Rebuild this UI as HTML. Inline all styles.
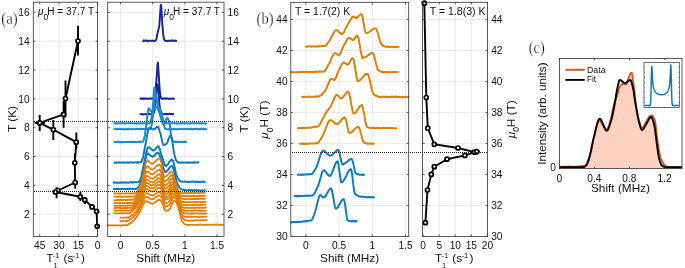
<!DOCTYPE html>
<html><head><meta charset="utf-8"><title>figure</title>
<style>html,body{margin:0;padding:0;background:#fff;}svg{display:block;will-change:transform;}</style></head>
<body><svg width="685" height="268" viewBox="0 0 685 268">
<rect x="0" y="0" width="685" height="268" fill="#fff"/>
<line x1="39.73" y1="2.2" x2="39.73" y2="236.4" stroke="#e3e3e3" stroke-width="0.8" />
<line x1="59.02" y1="2.2" x2="59.02" y2="236.4" stroke="#e3e3e3" stroke-width="0.8" />
<line x1="78.31" y1="2.2" x2="78.31" y2="236.4" stroke="#e3e3e3" stroke-width="0.8" />
<line x1="33.3" y1="12.4" x2="97.6" y2="12.4" stroke="#e3e3e3" stroke-width="0.8" />
<line x1="33.3" y1="41.23" x2="97.6" y2="41.23" stroke="#e3e3e3" stroke-width="0.8" />
<line x1="33.3" y1="70.06" x2="97.6" y2="70.06" stroke="#e3e3e3" stroke-width="0.8" />
<line x1="33.3" y1="98.88" x2="97.6" y2="98.88" stroke="#e3e3e3" stroke-width="0.8" />
<line x1="33.3" y1="127.71" x2="97.6" y2="127.71" stroke="#e3e3e3" stroke-width="0.8" />
<line x1="33.3" y1="156.54" x2="97.6" y2="156.54" stroke="#e3e3e3" stroke-width="0.8" />
<line x1="33.3" y1="185.37" x2="97.6" y2="185.37" stroke="#e3e3e3" stroke-width="0.8" />
<line x1="33.3" y1="214.2" x2="97.6" y2="214.2" stroke="#e3e3e3" stroke-width="0.8" />
<line x1="120.5" y1="2.2" x2="120.5" y2="236.4" stroke="#e3e3e3" stroke-width="0.8" />
<line x1="152.66" y1="2.2" x2="152.66" y2="236.4" stroke="#e3e3e3" stroke-width="0.8" />
<line x1="184.83" y1="2.2" x2="184.83" y2="236.4" stroke="#e3e3e3" stroke-width="0.8" />
<line x1="217" y1="2.2" x2="217" y2="236.4" stroke="#e3e3e3" stroke-width="0.8" />
<line x1="107.7" y1="12.4" x2="224" y2="12.4" stroke="#e3e3e3" stroke-width="0.8" />
<line x1="107.7" y1="41.23" x2="224" y2="41.23" stroke="#e3e3e3" stroke-width="0.8" />
<line x1="107.7" y1="70.06" x2="224" y2="70.06" stroke="#e3e3e3" stroke-width="0.8" />
<line x1="107.7" y1="98.88" x2="224" y2="98.88" stroke="#e3e3e3" stroke-width="0.8" />
<line x1="107.7" y1="127.71" x2="224" y2="127.71" stroke="#e3e3e3" stroke-width="0.8" />
<line x1="107.7" y1="156.54" x2="224" y2="156.54" stroke="#e3e3e3" stroke-width="0.8" />
<line x1="107.7" y1="185.37" x2="224" y2="185.37" stroke="#e3e3e3" stroke-width="0.8" />
<line x1="107.7" y1="214.2" x2="224" y2="214.2" stroke="#e3e3e3" stroke-width="0.8" />
<path d="M143.3,41.15 L143.8,40.37 L144.3,40.87 L144.8,40.7 L145.3,40.72 L145.8,40.76 L146.3,40.46 L146.8,40.76 L147.3,40.65 L147.8,41.36 L148.3,40.84 L148.8,40.74 L149.3,40.75 L149.8,40.69 L150.3,40.62 L150.8,40.73 L151.3,40.88 L151.8,40.76 L152.3,40.96 L152.8,40.77 L153.3,40.8 L153.8,41.06 L154.3,40.89 L154.8,40.71 L155.3,40.68 L155.8,40.31 L156.3,39.69 L156.8,36.73 L157.3,34.03 L157.8,32.3 L158.3,30.07 L158.8,28.13 L159.3,25.65 L159.8,18.89 L160.3,11.13 L160.8,4.81 L161.3,7.26 L161.8,15.17 L162.3,23.41 L162.8,29.86 L163.3,35.05 L163.8,38.18 L164.3,39.72 L164.8,40.24 L165.3,40.77 L165.8,40.79 L166.3,41.04 L166.8,40.93 L167.3,40.83 L167.8,40.99 L168.3,40.77 L168.8,40.64 L169.3,40.9 L169.8,40.9 L170.3,40.76 L170.8,40.67 L171.3,40.84 L171.8,40.38 L172.3,40.92 L172.8,40.88 L173.3,40.52 L173.8,40.81 L174.3,40.64 L174.8,40.93 L175.3,40.45 L175.8,40.64 L176.2,40.92" fill="none" stroke="#16259a" stroke-width="1.95" stroke-linejoin="round" stroke-linecap="round"/>
<path d="M140.4,98.8 L140.9,98.23 L141.4,98.52 L141.9,98.66 L142.4,98.5 L142.9,98.87 L143.4,98.4 L143.9,98.66 L144.4,98.42 L144.9,98.84 L145.4,98.6 L145.9,98.54 L146.4,98.31 L146.9,98.89 L147.4,98.73 L147.9,98.73 L148.4,98.79 L148.9,98.66 L149.4,98.49 L149.9,98.46 L150.4,98.46 L150.9,98.83 L151.4,98.35 L151.9,98.5 L152.4,98.55 L152.9,98.64 L153.4,98.57 L153.9,97.76 L154.4,96.89 L154.9,95.36 L155.4,91.88 L155.9,87.1 L156.4,80.62 L156.9,73.38 L157.4,65.31 L157.9,62.51 L158.4,69.25 L158.9,77.36 L159.4,85.81 L159.9,91.89 L160.4,95.99 L160.9,97.66 L161.4,98.57 L161.9,98.71 L162.4,98.85 L162.9,98.25 L163.4,98.54 L163.9,98.5 L164.4,98.69 L164.9,98.21 L165.4,98.8 L165.9,98.78 L166.4,98.38 L166.9,98.43 L167.4,98.46 L167.9,98.61 L168.4,98.71 L168.9,98.95 L169.4,98.57 L169.9,98.73 L170.4,98.63 L170.9,98.9 L171.4,98.73 L171.9,98.83 L172.4,98.42 L172.9,98.57 L173.4,98.46 L173.9,98.86 L174,98.71" fill="none" stroke="#16259a" stroke-width="1.95" stroke-linejoin="round" stroke-linecap="round"/>
<path d="M140.4,114.15 L140.9,114.12 L141.4,114.28 L141.9,114.08 L142.4,114.04 L142.9,114.28 L143.4,114.62 L143.9,114.16 L144.4,114.11 L144.9,114 L145.4,113.97 L145.9,114.29 L146.4,114.34 L146.9,114.2 L147.4,114.26 L147.9,114.22 L148.4,114.22 L148.9,113.94 L149.4,114.12 L149.9,114.22 L150.4,114.07 L150.9,114.12 L151.4,114.06 L151.9,114.14 L152.4,114.35 L152.9,113.99 L153.4,113.5 L153.9,112.83 L154.4,111.02 L154.9,107.62 L155.4,102.76 L155.9,97.61 L156.4,91.92 L156.9,87.27 L157.4,84.26 L157.9,85.96 L158.4,91.04 L158.9,96.75 L159.4,104.1 L159.9,108.64 L160.4,112.17 L160.9,113.33 L161.4,113.59 L161.9,114.32 L162.4,114.17 L162.9,114.37 L163.4,114 L163.9,113.93 L164.4,114.03 L164.9,114.12 L165.4,113.9 L165.9,114.06 L166.4,114 L166.9,114.27 L167.4,113.89 L167.9,114.18 L168.4,113.89 L168.9,113.84 L169.4,113.88 L169.9,113.8 L170.4,114.02 L170.9,114.18 L171.4,114.03 L171.9,114.11 L172.4,114.28 L172.9,114.05 L173.3,114.03" fill="none" stroke="#16259a" stroke-width="1.95" stroke-linejoin="round" stroke-linecap="round"/>
<path d="M114.4,123.25 L114.9,123.03 L115.4,123.43 L115.9,123 L116.4,123.41 L116.9,123.3 L117.4,123.49 L117.9,123.29 L118.4,123.16 L118.9,123.36 L119.4,123.2 L119.9,123.27 L120.4,123.31 L120.9,123.28 L121.4,123.27 L121.9,123.16 L122.4,123.27 L122.9,122.93 L123.4,123.27 L123.9,123.09 L124.4,123.49 L124.9,123.51 L125.4,122.96 L125.9,123.32 L126.4,123.27 L126.9,123.12 L127.4,123.38 L127.9,123.21 L128.4,122.99 L128.9,123.25 L129.4,123.27 L129.9,123.31 L130.4,123.08 L130.9,123.39 L131.4,123.41 L131.9,123.09 L132.4,123.17 L132.9,123.27 L133.4,123.19 L133.9,123.58 L134.4,123.32 L134.9,123.11 L135.4,123.14 L135.9,123.27 L136.4,123.66 L136.9,123.24 L137.4,123.29 L137.9,123.36 L138.4,123.26 L138.9,123.65 L139.4,123.17 L139.9,123.39 L140.4,123.29 L140.9,123.36 L141.4,123.05 L141.9,123.55 L142.4,123.23 L142.9,123.25 L143.4,123.08 L143.9,123.12 L144.4,123.33 L144.9,123.4 L145.4,123.36 L145.9,123.43 L146.4,123.35 L146.9,123.23 L147.4,123.36 L147.9,123.32 L148.4,123.19 L148.9,123.33 L149.4,123.42 L149.9,123.21 L150.4,122.26 L150.9,120.75 L151.4,118.87 L151.9,115.19 L152.4,110.79 L152.9,105.8 L153.4,98.79 L153.9,91.04 L154.4,87.4 L154.9,88.19 L155.4,90.52 L155.9,94.52 L156.4,97.91 L156.9,100.65 L157.4,103.81 L157.9,105.77 L158.4,106.97 L158.9,108.02 L159.4,108.06 L159.9,109.08 L160.4,109.59 L160.9,111.23 L161.4,113.1 L161.9,114.9 L162.4,117.23 L162.9,119.73 L163.4,121.57 L163.9,122.44 L164.4,123.05 L164.9,123.09 L165.4,123.01 L165.9,123.18 L166.4,123.45 L166.9,123.22 L167.4,123.46 L167.9,123.56 L168.4,123.31 L168.9,123.11 L169.4,123.08 L169.9,123.3 L170.4,123.45 L170.9,123.35 L171.4,123.39 L171.9,123.22 L172.4,123.35 L172.9,123.22 L173.4,123.24 L173.9,123.08 L174.4,123.03 L174.9,123.22 L175.4,123.11 L175.9,123.14 L176.4,123.41 L176.9,123.28 L177.4,123.8 L177.9,123.46 L178.4,123.19 L178.9,123.43 L179.4,123.36 L179.9,123.18 L180.4,123.49 L180.9,123.17 L181.4,122.78 L181.9,123.43 L182.4,123.2 L182.9,123.55 L183.4,123.19 L183.9,123.1 L184.4,123.56 L184.9,123.12 L185.4,123.33 L185.9,123.55 L186.4,123.32 L186.9,123.29 L187.4,123.32 L187.9,123.44 L188.4,123.16 L188.9,123.4 L189.4,123.4 L189.9,123.7 L190.4,123.24 L190.9,123.14 L191.4,123.43 L191.9,123.23 L192.4,123.35 L192.9,123.32 L193.4,123.5 L193.9,123.19 L194.4,123.28 L194.9,122.87 L195.4,123.15 L195.9,123.56 L196.4,123.18 L196.9,123.18 L197.4,123.09 L197.9,123.4 L198.4,123.33 L198.9,123.1 L199.4,123.41 L199.9,123.34 L200.4,123.43 L200.9,123.19 L201.4,123.6 L201.9,123.37 L202.4,123.28 L202.9,123.21 L203.4,123.26 L203.9,123.45 L204.4,123.25 L204.9,123.48 L205.4,123.4 L205.9,123.53 L206.2,123.44" fill="none" stroke="#1a8ad0" stroke-width="1.95" stroke-linejoin="round" stroke-linecap="round"/>
<path d="M114.4,129.09 L114.9,128.78 L115.4,129.15 L115.9,129.23 L116.4,129.13 L116.9,129.19 L117.4,129.02 L117.9,129.04 L118.4,128.94 L118.9,129.33 L119.4,129.13 L119.9,129.02 L120.4,128.87 L120.9,129.07 L121.4,129.34 L121.9,129.18 L122.4,128.98 L122.9,129.34 L123.4,129.34 L123.9,129.26 L124.4,129.23 L124.9,129.29 L125.4,129.19 L125.9,129.23 L126.4,128.96 L126.9,129.35 L127.4,129.13 L127.9,129.44 L128.4,128.75 L128.9,129.21 L129.4,129.26 L129.9,129.03 L130.4,129.17 L130.9,129.22 L131.4,129.19 L131.9,129 L132.4,129.06 L132.9,129.26 L133.4,129.3 L133.9,129.1 L134.4,129.09 L134.9,129.11 L135.4,129.25 L135.9,128.9 L136.4,128.85 L136.9,129.09 L137.4,128.88 L137.9,128.97 L138.4,129.08 L138.9,129.15 L139.4,128.88 L139.9,129.2 L140.4,128.76 L140.9,129.15 L141.4,128.79 L141.9,128.84 L142.4,129.16 L142.9,128.98 L143.4,128.91 L143.9,128.97 L144.4,129.12 L144.9,129.03 L145.4,129.03 L145.9,129.21 L146.4,128.91 L146.9,128.94 L147.4,128.93 L147.9,129.22 L148.4,129.18 L148.9,129.23 L149.4,129 L149.9,128.98 L150.4,129.03 L150.9,127.66 L151.4,125.91 L151.9,123.65 L152.4,120.23 L152.9,116.32 L153.4,112.11 L153.9,106.94 L154.4,100.96 L154.9,95.53 L155.4,93.5 L155.9,94.13 L156.4,96.99 L156.9,99.91 L157.4,102.32 L157.9,104.87 L158.4,106.66 L158.9,108.54 L159.4,109.5 L159.9,109.83 L160.4,110.67 L160.9,111.29 L161.4,111.8 L161.9,113.74 L162.4,116.79 L162.9,119.54 L163.4,121.73 L163.9,124.24 L164.4,126.55 L164.9,128.16 L165.4,128.84 L165.9,128.97 L166.4,129.34 L166.9,129.33 L167.4,129.22 L167.9,129.28 L168.4,129.33 L168.9,129.22 L169.4,128.89 L169.9,129.25 L170.4,129.11 L170.9,129.38 L171.4,129.12 L171.9,129.19 L172.4,129.16 L172.9,129.39 L173.4,129.13 L173.9,129.05 L174.4,129.15 L174.9,129.03 L175.4,129.13 L175.9,129.1 L176.4,129.15 L176.9,129.43 L177.4,129.03 L177.9,129.11 L178.4,129.07 L178.9,129.21 L179.4,128.9 L179.9,128.98 L180.4,129.09 L180.9,129.19 L181.4,129.09 L181.9,129.01 L182.4,128.95 L182.9,129.19 L183.4,129.35 L183.9,129.15 L184.4,129.13 L184.9,129.18 L185.4,128.94 L185.9,129.05 L186.4,129.05 L186.9,129.15 L187.4,129.09 L187.9,128.89 L188.4,129.29 L188.9,129.39 L189.4,129.06 L189.9,129.17 L190.4,129.15 L190.9,129.23 L191.4,128.85 L191.9,129.37 L192.4,129.02 L192.9,129.31 L193.4,129.11 L193.9,129.03 L194.4,129.08 L194.9,129.25 L195.4,128.95 L195.9,129.04 L196.4,129.02 L196.9,128.81 L197.4,129.32 L197.9,129.2 L198.4,129.1 L198.9,129.3 L199.4,128.94 L199.9,129.09 L200.4,129.39 L200.9,129.27 L201.4,128.72 L201.9,128.53 L202.4,128.92 L202.9,129.28 L203.4,129.02 L203.9,129.06 L204.4,129.2 L204.9,128.95 L205.4,129.14 L205.9,129.23 L206.2,129.18" fill="none" stroke="#1a8ad0" stroke-width="1.95" stroke-linejoin="round" stroke-linecap="round"/>
<path d="M114.4,142.07 L114.9,141.9 L115.4,142.09 L115.9,141.93 L116.4,142.22 L116.9,142.44 L117.4,141.87 L117.9,141.63 L118.4,141.93 L118.9,142.06 L119.4,142.18 L119.9,142.18 L120.4,141.86 L120.9,141.86 L121.4,142.21 L121.9,141.81 L122.4,142.18 L122.9,141.95 L123.4,142.12 L123.9,142.11 L124.4,142.12 L124.9,142.13 L125.4,141.82 L125.9,142.03 L126.4,141.98 L126.9,142.03 L127.4,142.19 L127.9,141.93 L128.4,141.85 L128.9,141.84 L129.4,141.91 L129.9,142.09 L130.4,141.82 L130.9,142.15 L131.4,142 L131.9,141.91 L132.4,141.72 L132.9,141.98 L133.4,142.05 L133.9,141.63 L134.4,142.13 L134.9,142.2 L135.4,141.97 L135.9,141.99 L136.4,142.31 L136.9,142.1 L137.4,141.73 L137.9,141.88 L138.4,141.84 L138.9,141.84 L139.4,141.45 L139.9,141.98 L140.4,141.73 L140.9,141.86 L141.4,141.8 L141.9,141.96 L142.4,141.75 L142.9,141.4 L143.4,140.71 L143.9,139.49 L144.4,137.59 L144.9,135.2 L145.4,131.42 L145.9,127.59 L146.4,124.23 L146.9,119.41 L147.4,115.25 L147.9,111.22 L148.4,109.01 L148.9,108.33 L149.4,108.8 L149.9,109.8 L150.4,110.42 L150.9,111.07 L151.4,111.38 L151.9,111.51 L152.4,110.83 L152.9,110.26 L153.4,109.65 L153.9,108.69 L154.4,107.88 L154.9,107.27 L155.4,106.73 L155.9,106.47 L156.4,106.94 L156.9,107.42 L157.4,108.37 L157.9,109.28 L158.4,110.44 L158.9,111.52 L159.4,113.01 L159.9,114.33 L160.4,116.35 L160.9,118.32 L161.4,120.01 L161.9,121.3 L162.4,122.48 L162.9,123.94 L163.4,124.35 L163.9,124.4 L164.4,123.41 L164.9,122.36 L165.4,121.27 L165.9,119.68 L166.4,118.9 L166.9,118.05 L167.4,118.1 L167.9,118.95 L168.4,119.96 L168.9,120.78 L169.4,122.37 L169.9,125.45 L170.4,130.05 L170.9,133.73 L171.4,136.55 L171.9,139.16 L172.4,140.71 L172.9,141.4 L173.4,141.66 L173.9,141.76 L174.4,141.79 L174.9,141.58 L175.4,142.12 L175.9,141.83 L176.4,141.83 L176.9,141.99 L177.4,141.52 L177.9,141.89 L178.4,141.89 L178.9,141.99 L179.4,142.17 L179.9,142.03 L180.4,141.64 L180.9,141.91 L181.4,142.01 L181.9,142 L182.4,141.76 L182.9,141.7 L183.4,142.08 L183.9,142.05 L184.4,141.99 L184.9,141.71 L185.4,142.3 L185.9,141.51 L186,141.94" fill="none" stroke="#1a8ad0" stroke-width="1.95" stroke-linejoin="round" stroke-linecap="round"/>
<path d="M114.4,162.96 L114.9,162.57 L115.4,162.64 L115.9,162.4 L116.4,162.83 L116.9,162.38 L117.4,162.64 L117.9,162.62 L118.4,162.42 L118.9,162.75 L119.4,162.35 L119.9,162.48 L120.4,162.59 L120.9,162.52 L121.4,162.67 L121.9,162.75 L122.4,162.54 L122.9,162.49 L123.4,162.49 L123.9,162.52 L124.4,162.71 L124.9,162.54 L125.4,162.64 L125.9,162.55 L126.4,162.42 L126.9,162.7 L127.4,162.38 L127.9,162.55 L128.4,162.8 L128.9,162.35 L129.4,162.52 L129.9,162.26 L130.4,162.43 L130.9,162.26 L131.4,162.44 L131.9,162.41 L132.4,162.51 L132.9,162.75 L133.4,162.52 L133.9,162.58 L134.4,162.45 L134.9,162.4 L135.4,162.29 L135.9,162.12 L136.4,162.42 L136.9,162.68 L137.4,162.47 L137.9,162.28 L138.4,162.64 L138.9,162.27 L139.4,162.23 L139.9,162.11 L140.4,162.14 L140.9,162.07 L141.4,161.8 L141.9,160.43 L142.4,159.09 L142.9,157.8 L143.4,155.75 L143.9,152.8 L144.4,150.22 L144.9,147.61 L145.4,145.03 L145.9,142.26 L146.4,138.98 L146.9,135.97 L147.4,133.73 L147.9,131.31 L148.4,129 L148.9,128.14 L149.4,127.81 L149.9,127.99 L150.4,128.14 L150.9,128.3 L151.4,128.73 L151.9,129.04 L152.4,129.29 L152.9,129.19 L153.4,129.09 L153.9,129.39 L154.4,128.95 L154.9,128.83 L155.4,128.39 L155.9,127.76 L156.4,127.16 L156.9,126.84 L157.4,126.82 L157.9,126.61 L158.4,127.63 L158.9,128.81 L159.4,130.23 L159.9,132.03 L160.4,133.18 L160.9,135.41 L161.4,137.49 L161.9,140.02 L162.4,142.26 L162.9,144.23 L163.4,144.81 L163.9,144.97 L164.4,144.63 L164.9,144.78 L165.4,144.61 L165.9,143.99 L166.4,143.86 L166.9,143.13 L167.4,142.46 L167.9,140.89 L168.4,139.27 L168.9,138.47 L169.4,137.04 L169.9,136.03 L170.4,135.7 L170.9,135.88 L171.4,137.41 L171.9,139.15 L172.4,141.75 L172.9,144.99 L173.4,148.95 L173.9,152.25 L174.4,154.78 L174.9,156.6 L175.4,158.54 L175.9,159.68 L176.4,160.46 L176.9,161.28 L177.4,162.04 L177.9,162.52 L178.4,162.63 L178.9,162.46 L179.4,162.66 L179.9,162.43 L180.4,162.66 L180.9,162.44 L181.4,162.72 L181.9,162.39 L182.4,162.44 L182.9,162.6 L183.4,162.69 L183.9,162.36 L184.4,162.51 L184.9,162.62 L185.4,162.64 L185.9,162.46 L186.4,162.61 L186.9,162.55 L187.4,162.83 L187.9,162.69 L188.4,162.37 L188.9,162.22 L189.4,162.61 L189.9,162.79 L190.4,162.61 L190.9,162.73 L191.4,162.5 L191.9,162.34 L192.4,162.7 L192.9,162.59 L193.4,162.68 L193.9,162.33 L194.4,162.59 L194.9,162.44 L195.4,162.68 L195.9,162.44 L196.4,162.43 L196.9,162.43 L197.4,162.73 L197.9,162.51 L198.4,162.37 L198.5,162.33" fill="none" stroke="#0a7bc3" stroke-width="1.95" stroke-linejoin="round" stroke-linecap="round"/>
<path d="M113.6,182.42 L114.1,182.85 L114.6,182.29 L115.1,182.45 L115.6,182.71 L116.1,182.8 L116.6,182.57 L117.1,182.73 L117.6,182.72 L118.1,182.76 L118.6,182.6 L119.1,182.87 L119.6,182.62 L120.1,182.84 L120.6,182.39 L121.1,182.74 L121.6,182.36 L122.1,182.31 L122.6,182.65 L123.1,182.42 L123.6,182.63 L124.1,182.37 L124.6,182.82 L125.1,182.54 L125.6,182.34 L126.1,182.55 L126.6,182.66 L127.1,182.37 L127.6,182.58 L128.1,182.83 L128.6,182.62 L129.1,182.46 L129.6,182.36 L130.1,182.54 L130.6,182.17 L131.1,181.9 L131.6,182.29 L132.1,182.2 L132.6,182.67 L133.1,182.38 L133.6,182.17 L134.1,182.13 L134.6,182.39 L135.1,182.15 L135.6,182.17 L136.1,182.23 L136.6,182.24 L137.1,182.22 L137.6,182.14 L138.1,182.19 L138.6,182.02 L139.1,181.14 L139.6,181.49 L140.1,180.63 L140.6,179.95 L141.1,177.75 L141.6,175.41 L142.1,172.6 L142.6,169.88 L143.1,167.74 L143.6,165.5 L144.1,162.84 L144.6,160.52 L145.1,158.19 L145.6,155.79 L146.1,153.36 L146.6,151.35 L147.1,149.66 L147.6,148.18 L148.1,147.3 L148.6,147.48 L149.1,147.24 L149.6,147.56 L150.1,147.78 L150.6,148.56 L151.1,149.11 L151.6,149.25 L152.1,149.81 L152.6,149.95 L153.1,150.62 L153.6,150.57 L154.1,150.14 L154.6,150.15 L155.1,149.49 L155.6,148.89 L156.1,148.23 L156.6,147.42 L157.1,146.89 L157.6,146.66 L158.1,146.33 L158.6,146.3 L159.1,147.62 L159.6,148.59 L160.1,150.21 L160.6,151.99 L161.1,153.95 L161.6,155.45 L162.1,156.81 L162.6,158.56 L163.1,159.85 L163.6,161.68 L164.1,163.15 L164.6,164.46 L165.1,165.4 L165.6,165.35 L166.1,166.18 L166.6,165.26 L167.1,165.07 L167.6,164.63 L168.1,164.04 L168.6,163.28 L169.1,162.06 L169.6,161.7 L170.1,161.39 L170.6,160.55 L171.1,160.08 L171.6,159.55 L172.1,160.02 L172.6,160.17 L173.1,160.96 L173.6,162.73 L174.1,164.8 L174.6,166.95 L175.1,169.5 L175.6,171.92 L176.1,174.05 L176.6,175.82 L177.1,176.79 L177.6,177.81 L178.1,178.97 L178.6,179.64 L179.1,180.16 L179.6,180.91 L180.1,180.92 L180.6,181.24 L181.1,181.54 L181.6,181.4 L182.1,181.82 L182.6,181.86 L183.1,181.79 L183.6,181.87 L184.1,181.67 L184.6,181.43 L185.1,181.76 L185.6,181.65 L186.1,181.95 L186.6,181.85 L187.1,181.71 L187.6,181.81 L188.1,182.03 L188.6,182 L189.1,181.87 L189.6,181.88 L190.1,181.76 L190.6,181.78 L191.1,181.9 L191.6,181.78 L192.1,181.85 L192.6,181.61 L193.1,181.52 L193.6,181.51 L194.1,181.73 L194.6,182.03 L195.1,182 L195.6,181.63 L196.1,181.54 L196.6,181.94 L197.1,181.88 L197.6,181.57 L198.1,181.98 L198.6,181.83 L199.1,182.03 L199.6,181.86 L200.1,181.95 L200.6,181.86 L201.1,181.64 L201.6,181.76 L202.1,181.69 L202.6,181.94 L203.1,181.63 L203.6,181.54 L204.1,181.92 L204.6,182 L204.8,182.05" fill="none" stroke="#0a7bc3" stroke-width="1.95" stroke-linejoin="round" stroke-linecap="round"/>
<path d="M113.6,189.19 L114.1,188.75 L114.6,188.88 L115.1,188.91 L115.6,189 L116.1,188.63 L116.6,189 L117.1,189.05 L117.6,188.84 L118.1,189.02 L118.6,189.2 L119.1,189 L119.6,189.17 L120.1,189.17 L120.6,189.06 L121.1,189.05 L121.6,188.92 L122.1,189.2 L122.6,188.9 L123.1,188.86 L123.6,189.1 L124.1,188.85 L124.6,189.04 L125.1,189.15 L125.6,188.98 L126.1,188.98 L126.6,189.11 L127.1,189.08 L127.6,188.68 L128.1,188.71 L128.6,189.16 L129.1,188.99 L129.6,188.57 L130.1,188.68 L130.6,188.91 L131.1,188.73 L131.6,188.97 L132.1,188.89 L132.6,188.96 L133.1,188.67 L133.6,188.96 L134.1,189.18 L134.6,188.7 L135.1,189.05 L135.6,188.98 L136.1,188.91 L136.6,188.63 L137.1,188.11 L137.6,187.68 L138.1,187.37 L138.6,186.74 L139.1,186.06 L139.6,184.95 L140.1,183.48 L140.6,181.49 L141.1,179.41 L141.6,177.6 L142.1,175.63 L142.6,173.64 L143.1,171.21 L143.6,168.91 L144.1,166.08 L144.6,163.64 L145.1,160.79 L145.6,158.51 L146.1,156.52 L146.6,154.88 L147.1,154.1 L147.6,153.42 L148.1,153.35 L148.6,154.12 L149.1,154.54 L149.6,154.96 L150.1,155.2 L150.6,155.67 L151.1,156 L151.6,156.08 L152.1,156.43 L152.6,156.69 L153.1,156.41 L153.6,156.57 L154.1,155.59 L154.6,155.29 L155.1,155.02 L155.6,154.17 L156.1,153.55 L156.6,153.04 L157.1,152.78 L157.6,152.92 L158.1,152.69 L158.6,153.11 L159.1,153.81 L159.6,155.26 L160.1,156.56 L160.6,157.88 L161.1,159.4 L161.6,160.89 L162.1,162.76 L162.6,164.49 L163.1,166.58 L163.6,168.75 L164.1,169.92 L164.6,171.08 L165.1,172.11 L165.6,172.05 L166.1,171.75 L166.6,171.46 L167.1,170.88 L167.6,170.46 L168.1,169.68 L168.6,169.21 L169.1,168.21 L169.6,167.63 L170.1,167.2 L170.6,166.6 L171.1,166.42 L171.6,166.06 L172.1,165.93 L172.6,166.6 L173.1,167.66 L173.6,169.17 L174.1,171.27 L174.6,173.54 L175.1,175.83 L175.6,178.04 L176.1,180.01 L176.6,181.35 L177.1,182.81 L177.6,183.95 L178.1,184.87 L178.6,186.25 L179.1,187.08 L179.6,187.52 L180.1,188.14 L180.6,188.66 L181.1,188.88 L181.6,189.33 L182.1,189.51 L182.6,189.79 L183.1,189.8 L183.6,190.03 L184.1,189.95 L184.6,190.15 L185.1,189.77 L185.6,190.14 L186.1,190.31 L186.6,190.22 L187.1,190.13 L187.6,190.25 L188.1,190.03 L188.6,190.05 L189.1,190.14 L189.6,190.19 L190.1,190.4 L190.6,190.1 L191.1,190.43 L191.6,190.01 L192.1,190.15 L192.6,190.29 L193.1,190.5 L193.6,190.21 L194.1,189.96 L194.6,190.4 L195.1,190.34 L195.6,190.16 L196.1,190.18 L196.6,190.24 L197.1,190.38 L197.6,190.49 L198.1,190.13 L198.6,190.77 L199.1,190.38 L199.6,190.33 L200.1,190.51 L200.6,190.42 L201.1,190.8 L201.6,190.59 L202.1,190.34 L202.6,190.34 L203.1,190.32 L203.6,190.35 L204.1,190.52 L204.6,190.3 L204.8,190.68" fill="none" stroke="#0a7bc3" stroke-width="1.95" stroke-linejoin="round" stroke-linecap="round"/>
<path d="M107.5,225.39 L108,225.38 L108.5,225.57 L109,225.07 L109.5,225.25 L110,225.51 L110.5,225.41 L111,225.4 L111.5,225.47 L112,225.3 L112.5,225.37 L113,225.17 L113.5,225.08 L114,225.61 L114.5,225.24 L115,225.27 L115.5,225.63 L116,225.57 L116.5,225.29 L117,225.29 L117.5,225.36 L118,225.21 L118.5,225.46 L119,225.39 L119.5,225.38 L120,225.49 L120.5,225.47 L121,225.66 L121.5,225.6 L122,225.05 L122.5,225.48 L123,225.13 L123.5,225.07 L124,225.43 L124.5,225.18 L125,225.24 L125.5,225.47 L126,225.17 L126.5,225.09 L127,225.19 L127.5,225.16 L128,224.8 L128.5,224.17 L129,224 L129.5,223.74 L130,223.74 L130.5,223.21 L131,222.85 L131.5,222.55 L132,221.89 L132.5,221.59 L133,221.13 L133.5,220.39 L134,220.03 L134.5,219.58 L135,218.73 L135.5,218.46 L136,217.84 L136.5,217.23 L137,216.22 L137.5,215.61 L138,215.04 L138.5,214.1 L139,212.97 L139.5,212.26 L140,211.56 L140.5,210.36 L141,209.37 L141.5,208.61 L142,207.03 L142.5,205.92 L143,204.78 L143.5,203.96 L144,203.38 L144.5,202.21 L145,201.34 L145.5,201.05 L146,201.22 L146.5,201.45 L147,201.35 L147.5,201.8 L148,201.84 L148.5,202.25 L149,202.55 L149.5,202.84 L150,202.92 L150.5,203.2 L151,203.51 L151.5,203.35 L152,203.68 L152.5,203.75 L153,203.74 L153.5,203.37 L154,203.08 L154.5,202.8 L155,202.29 L155.5,201.98 L156,201.68 L156.5,201.26 L157,200.65 L157.5,200.43 L158,199.84 L158.5,200.13 L159,199.77 L159.5,199.89 L160,199.9 L160.5,200.53 L161,201.24 L161.5,202.02 L162,202.33 L162.5,203.76 L163,204.98 L163.5,206.41 L164,208.15 L164.5,209.37 L165,210.35 L165.5,210.75 L166,210.9 L166.5,210.78 L167,210.61 L167.5,210.3 L168,210.16 L168.5,210.06 L169,209.94 L169.5,209.37 L170,208.94 L170.5,207.73 L171,206.38 L171.5,205.4 L172,203.83 L172.5,202.84 L173,201.87 L173.5,200.8 L174,200.33 L174.5,200.67 L175,200.58 L175.5,201.18 L176,202.1 L176.5,202.96 L177,204.09 L177.5,205.35 L178,206.03 L178.5,208.1 L179,209.5 L179.5,211.6 L180,214.1 L180.5,216.22 L181,218.05 L181.5,220.04 L182,221.1 L182.5,221.91 L183,222.32 L183.5,222.94 L184,223.61 L184.5,223.97 L185,224.35 L185.5,224.72 L186,224.74 L186.5,224.73 L187,224.8 L187.5,225.13 L188,224.86 L188.5,224.9 L189,224.83 L189.5,224.89 L190,224.92 L190.5,224.85 L191,224.82 L191.5,224.72 L192,224.71 L192.5,224.92 L193,224.98 L193.5,225.01 L194,224.86 L194.5,224.71 L195,224.95 L195.5,224.95 L196,224.59 L196.5,224.98 L197,224.94 L197.5,225.13 L198,224.65 L198.5,224.63 L199,224.97 L199.5,224.54 L200,224.71 L200.5,224.65 L201,224.66 L201.5,224.51 L202,224.79 L202.5,225 L203,224.9 L203.5,224.9 L204,224.76 L204.5,225.07 L205,224.91 L205.5,225 L206,224.55 L206.5,224.87 L207,224.62 L207.5,224.87 L208,224.84 L208.5,224.61 L209,224.83 L209.5,224.99 L210,224.87 L210.5,224.88 L211,224.63 L211.5,224.66 L212,224.58 L212.5,224.79 L213,224.96 L213.5,224.83 L214,224.75 L214.5,224.55 L215,224.81 L215.5,224.69 L216,224.4 L216.5,224.43 L217,224.65 L217.5,224.55 L218,224.98 L218.5,224.7 L219,224.51 L219.5,224.59 L220,224.94 L220.5,224.5 L221,224.78 L221.5,224.71 L222,224.88 L222.5,224.71 L223,224.54 L223.5,224.69" fill="none" stroke="#e07d02" stroke-width="1.7" stroke-linejoin="round" stroke-linecap="round"/>
<path d="M120.4,221.01 L120.9,221.17 L121.4,220.99 L121.9,221.33 L122.4,220.98 L122.9,221.07 L123.4,220.88 L123.9,221.01 L124.4,220.98 L124.9,221 L125.4,221.12 L125.9,220.87 L126.4,220.81 L126.9,221.13 L127.4,220.86 L127.9,220.67 L128.4,220.78 L128.9,220.46 L129.4,219.58 L129.9,219.62 L130.4,219.45 L130.9,219.09 L131.4,218.48 L131.9,218.47 L132.4,217.67 L132.9,217.33 L133.4,216.92 L133.9,216.4 L134.4,216 L134.9,215.47 L135.4,214.7 L135.9,214.34 L136.4,213.35 L136.9,212.75 L137.4,212.34 L137.9,211.28 L138.4,210.62 L138.9,209.5 L139.4,208.63 L139.9,207.73 L140.4,206.83 L140.9,205.73 L141.4,204.66 L141.9,203.58 L142.4,202.48 L142.9,201.18 L143.4,200.28 L143.9,199.39 L144.4,198.07 L144.9,197.13 L145.4,197.12 L145.9,196.96 L146.4,196.81 L146.9,197 L147.4,196.97 L147.9,197.13 L148.4,197.68 L148.9,197.65 L149.4,198.34 L149.9,198.34 L150.4,198.75 L150.9,199.24 L151.4,199.39 L151.9,199.13 L152.4,199.38 L152.9,198.95 L153.4,198.85 L153.9,198.75 L154.4,198.61 L154.9,197.91 L155.4,197.7 L155.9,197.22 L156.4,196.58 L156.9,196.38 L157.4,196.31 L157.9,195.74 L158.4,195.61 L158.9,195.52 L159.4,195.22 L159.9,195.74 L160.4,196.24 L160.9,196.87 L161.4,197.52 L161.9,197.94 L162.4,199 L162.9,200.41 L163.4,202.01 L163.9,203.65 L164.4,205.36 L164.9,206.46 L165.4,206.55 L165.9,206.78 L166.4,206.33 L166.9,206.35 L167.4,206.04 L167.9,205.7 L168.4,205.72 L168.9,205.45 L169.4,204.96 L169.9,204.21 L170.4,203.14 L170.9,202.14 L171.4,200.83 L171.9,199.75 L172.4,198.38 L172.9,197.68 L173.4,197.05 L173.9,196.84 L174.4,196.89 L174.9,197.18 L175.4,197.74 L175.9,198.46 L176.4,199.83 L176.9,201.22 L177.4,202.41 L177.9,202.92 L178.4,204.87 L178.9,206.9 L179.4,208.92 L179.9,211.3 L180.4,213.34 L180.9,215.06 L181.4,216.55 L181.9,217.15 L182.4,217.82 L182.9,218.36 L183.4,219.15 L183.9,219.15 L184.4,219.75 L184.9,220.2 L185.4,220.26 L185.9,220.51 L186.4,220.28 L186.9,220.46 L187.4,220.54 L187.9,220.77 L188.4,220.51 L188.9,220.63 L189.4,220.39 L189.9,220.4 L190.4,220.65 L190.9,220.49 L191.4,220.63 L191.9,220.51 L192.4,220.74 L192.9,220.79 L193.4,220.24 L193.9,220.7 L194.4,220.45 L194.9,220.46 L195.4,220.35 L195.9,220.49 L196.4,220.18 L196.9,220.24 L197.4,220.23 L197.9,220.4 L198.4,220.51 L198.9,220.47 L199.4,220.4 L199.9,220.23 L200.4,220.03 L200.9,220.39 L201.4,220.34 L201.9,220.36 L202.4,220.54 L202.9,220.25 L203.4,220.24 L203.9,219.87 L204.4,220.35 L204.9,220.23 L205.4,220.1 L205.9,220.28 L206.3,220.03" fill="none" stroke="#e07d02" stroke-width="1.7" stroke-linejoin="round" stroke-linecap="round"/>
<path d="M120.4,217.51 L120.9,217.94 L121.4,217.73 L121.9,217.76 L122.4,217.73 L122.9,217.71 L123.4,217.63 L123.9,217.98 L124.4,217.57 L124.9,217.7 L125.4,217.53 L125.9,217.5 L126.4,217.14 L126.9,217.22 L127.4,217.8 L127.9,217.78 L128.4,217.39 L128.9,217.31 L129.4,217.19 L129.9,216.63 L130.4,216.76 L130.9,215.91 L131.4,215.58 L131.9,214.84 L132.4,215.18 L132.9,214.53 L133.4,214.35 L133.9,213.42 L134.4,213.13 L134.9,212.53 L135.4,211.97 L135.9,211.67 L136.4,211.06 L136.9,210.24 L137.4,209.23 L137.9,208.68 L138.4,207.92 L138.9,206.91 L139.4,206 L139.9,205.03 L140.4,203.82 L140.9,203.01 L141.4,202.13 L141.9,200.47 L142.4,199.4 L142.9,198.31 L143.4,196.82 L143.9,196.06 L144.4,194.76 L144.9,193.98 L145.4,193.15 L145.9,193.01 L146.4,193.13 L146.9,193.29 L147.4,193.49 L147.9,193.35 L148.4,194.29 L148.9,194.25 L149.4,194.4 L149.9,194.76 L150.4,195.17 L150.9,195.17 L151.4,195.43 L151.9,195.53 L152.4,195.73 L152.9,195.43 L153.4,195.46 L153.9,195.18 L154.4,194.77 L154.9,194.64 L155.4,194.03 L155.9,193.42 L156.4,193.26 L156.9,192.83 L157.4,192.45 L157.9,192.2 L158.4,192.33 L158.9,191.82 L159.4,191.83 L159.9,191.92 L160.4,192.65 L160.9,193.06 L161.4,193.66 L161.9,194.36 L162.4,195.85 L162.9,197.46 L163.4,198.79 L163.9,200.62 L164.4,202.27 L164.9,203.28 L165.4,203.16 L165.9,203.27 L166.4,203.37 L166.9,202.96 L167.4,202.76 L167.9,202.5 L168.4,202.09 L168.9,202.02 L169.4,201.52 L169.9,200.41 L170.4,199.64 L170.9,198.67 L171.4,197.35 L171.9,196.36 L172.4,195.13 L172.9,194.7 L173.4,193.89 L173.9,194.28 L174.4,194.2 L174.9,194.76 L175.4,195.58 L175.9,196.68 L176.4,197.78 L176.9,198.89 L177.4,200.1 L177.9,201.79 L178.4,203.7 L178.9,205.56 L179.4,207.95 L179.9,209.61 L180.4,211.41 L180.9,212.81 L181.4,214.01 L181.9,214.22 L182.4,214.79 L182.9,215.73 L183.4,216.24 L183.9,216.55 L184.4,216.36 L184.9,216.81 L185.4,217.05 L185.9,216.93 L186.4,216.64 L186.9,216.86 L187.4,216.63 L187.9,216.71 L188.4,217.28 L188.9,217.03 L189.4,216.66 L189.9,216.66 L190.4,216.99 L190.9,216.81 L191.4,217.01 L191.9,216.8 L192.4,216.87 L192.9,216.95 L193.4,216.73 L193.9,216.57 L194.4,216.7 L194.9,216.78 L195.4,216.86 L195.9,216.88 L196.4,216.87 L196.9,216.97 L197.4,216.72 L197.9,217.11 L198.4,217.2 L198.9,216.92 L199.4,216.88 L199.9,217.06 L200.4,216.95 L200.9,216.86 L201.4,216.79 L201.9,216.68 L202.4,216.6 L202.9,216.9 L203.4,216.98 L203.9,216.58 L204.4,216.74 L204.9,216.78 L205.4,216.65 L205.9,216.58 L206.3,216.63" fill="none" stroke="#e07d02" stroke-width="1.7" stroke-linejoin="round" stroke-linecap="round"/>
<path d="M114.2,212.86 L114.7,213.19 L115.2,213.16 L115.7,213.57 L116.2,213.37 L116.7,213.16 L117.2,213.22 L117.7,213.52 L118.2,213.5 L118.7,213.26 L119.2,213.21 L119.7,212.99 L120.2,213.18 L120.7,213.21 L121.2,213.11 L121.7,213.53 L122.2,212.92 L122.7,213.22 L123.2,213.31 L123.7,213.32 L124.2,213.53 L124.7,213.01 L125.2,213.12 L125.7,213.26 L126.2,213.27 L126.7,213.18 L127.2,213.11 L127.7,213.43 L128.2,213.07 L128.7,213.15 L129.2,213.45 L129.7,213.37 L130.2,212.99 L130.7,212.41 L131.2,212.06 L131.7,211.67 L132.2,211.22 L132.7,210.93 L133.2,210.82 L133.7,210.22 L134.2,209.58 L134.7,209.06 L135.2,208.44 L135.7,208.25 L136.2,207.08 L136.7,206.81 L137.2,205.84 L137.7,205.19 L138.2,204.33 L138.7,203.9 L139.2,202.81 L139.7,202.34 L140.2,200.71 L140.7,199.68 L141.2,198.92 L141.7,197.76 L142.2,196.34 L142.7,194.73 L143.2,194.05 L143.7,192.75 L144.2,191.71 L144.7,190.46 L145.2,189.72 L145.7,188.92 L146.2,188.94 L146.7,188.99 L147.2,189.39 L147.7,189.32 L148.2,189.6 L148.7,190.14 L149.2,190.3 L149.7,190.56 L150.2,190.8 L150.7,191.26 L151.2,191.19 L151.7,191.52 L152.2,191.85 L152.7,191.54 L153.2,191.2 L153.7,190.9 L154.2,190.84 L154.7,190.26 L155.2,189.81 L155.7,189.55 L156.2,189.08 L156.7,189.02 L157.2,188.26 L157.7,188.46 L158.2,187.81 L158.7,187.78 L159.2,187.8 L159.7,187.83 L160.2,188.32 L160.7,188.64 L161.2,189.17 L161.7,190.29 L162.2,191.17 L162.7,192.95 L163.2,195.03 L163.7,196.65 L164.2,198.16 L164.7,199.17 L165.2,199.71 L165.7,199.68 L166.2,199.34 L166.7,199.49 L167.2,199.04 L167.7,199.02 L168.2,198.63 L168.7,198.58 L169.2,198.02 L169.7,197.09 L170.2,196.1 L170.7,195.12 L171.2,194.19 L171.7,193.11 L172.2,192.07 L172.7,191.44 L173.2,191.31 L173.7,190.8 L174.2,191.57 L174.7,192.01 L175.2,193.29 L175.7,194.03 L176.2,195.22 L176.7,196.18 L177.2,197.61 L177.7,199.4 L178.2,201.48 L178.7,203.05 L179.2,205.25 L179.7,207.89 L180.2,208.99 L180.7,209.99 L181.2,210.76 L181.7,210.8 L182.2,212.06 L182.7,212.29 L183.2,212.44 L183.7,213.21 L184.2,213.15 L184.7,213.22 L185.2,213.52 L185.7,213.5 L186.2,213.36 L186.7,213.43 L187.2,213.22 L187.7,213.2 L188.2,213.61 L188.7,213.68 L189.2,213.53 L189.7,213.53 L190.2,213.4 L190.7,213.45 L191.2,213.31 L191.7,213.77 L192.2,213.38 L192.7,213.55 L193.2,213.48 L193.7,213.24 L194.2,213.81 L194.7,213.42 L195.2,213.36 L195.7,213.51 L196.2,213.34 L196.7,213.5 L197.2,213.33 L197.7,213.59 L198.2,213.5 L198.7,213.26 L199.2,213.67 L199.7,213.53 L200.2,213.31 L200.7,213.56 L201.2,213.57 L201.7,213.82 L202.2,213.35 L202.7,213.65 L203.2,213.48 L203.7,213.61 L204.2,213.46 L204.7,213.49 L205.2,213.59 L205.7,213.3 L206.2,213.14 L206.3,213.5" fill="none" stroke="#e07d02" stroke-width="1.7" stroke-linejoin="round" stroke-linecap="round"/>
<path d="M114.2,210.43 L114.7,210.52 L115.2,210.62 L115.7,210.47 L116.2,210.72 L116.7,210.51 L117.2,210.54 L117.7,210.66 L118.2,210.62 L118.7,210.51 L119.2,210.55 L119.7,210.4 L120.2,210.43 L120.7,210.55 L121.2,210.67 L121.7,210.46 L122.2,210.68 L122.7,210.87 L123.2,210.9 L123.7,210.54 L124.2,210.72 L124.7,210.64 L125.2,210.67 L125.7,210.68 L126.2,210.63 L126.7,210.68 L127.2,210.57 L127.7,210.5 L128.2,210.59 L128.7,210.63 L129.2,210.75 L129.7,210.61 L130.2,210.61 L130.7,210.55 L131.2,209.89 L131.7,209.66 L132.2,209.41 L132.7,208.9 L133.2,208.29 L133.7,208.2 L134.2,207.59 L134.7,206.95 L135.2,206.91 L135.7,205.79 L136.2,205.38 L136.7,204.61 L137.2,204.05 L137.7,203.41 L138.2,202.41 L138.7,201.7 L139.2,200.79 L139.7,199.67 L140.2,199.03 L140.7,197.8 L141.2,196.63 L141.7,195.43 L142.2,194.21 L142.7,192.91 L143.2,191.42 L143.7,190.42 L144.2,188.67 L144.7,187.61 L145.2,186.84 L145.7,185.8 L146.2,185.9 L146.7,185.87 L147.2,186.23 L147.7,186.42 L148.2,186.84 L148.7,187.07 L149.2,187.44 L149.7,187.62 L150.2,188.01 L150.7,188.18 L151.2,188.2 L151.7,188.24 L152.2,188.31 L152.7,188.57 L153.2,187.94 L153.7,188.15 L154.2,187.69 L154.7,187.59 L155.2,187.11 L155.7,186.53 L156.2,186.25 L156.7,185.46 L157.2,185.52 L157.7,185.23 L158.2,184.58 L158.7,184.87 L159.2,184.62 L159.7,184.79 L160.2,184.96 L160.7,185.95 L161.2,186.72 L161.7,187.43 L162.2,188.54 L162.7,190.59 L163.2,192.62 L163.7,194.38 L164.2,196.06 L164.7,196.8 L165.2,197.14 L165.7,197.11 L166.2,196.94 L166.7,197.2 L167.2,196.56 L167.7,196.13 L168.2,196.07 L168.7,195.38 L169.2,195 L169.7,194.23 L170.2,193.04 L170.7,192.05 L171.2,190.94 L171.7,190.23 L172.2,189.39 L172.7,189.35 L173.2,189.06 L173.7,189.18 L174.2,189.57 L174.7,191 L175.2,191.88 L175.7,192.84 L176.2,193.91 L176.7,195.07 L177.2,196.51 L177.7,198.76 L178.2,200.48 L178.7,202.22 L179.2,204.24 L179.7,205.53 L180.2,207.27 L180.7,207.99 L181.2,208.76 L181.7,209.36 L182.2,209.37 L182.7,210.01 L183.2,210.44 L183.7,210.65 L184.2,210.56 L184.7,210.81 L185.2,210.76 L185.7,210.91 L186.2,210.67 L186.7,210.64 L187.2,210.6 L187.7,210.62 L188.2,210.56 L188.7,210.63 L189.2,210.78 L189.7,210.77 L190.2,210.92 L190.7,210.88 L191.2,210.8 L191.7,210.5 L192.2,210.8 L192.7,210.9 L193.2,210.48 L193.7,210.51 L194.2,210.54 L194.7,210.53 L195.2,210.65 L195.7,210.55 L196.2,210.77 L196.7,210.5 L197.2,210.68 L197.7,210.62 L198.2,210.54 L198.7,210.88 L199.2,210.71 L199.7,210.8 L200.2,210.65 L200.7,210.83 L201.2,210.81 L201.7,210.68 L202.2,210.41 L202.7,210.85 L203.2,210.83 L203.7,210.74 L204.2,210.75 L204.7,210.73 L205.2,210.74 L205.7,210.54 L206,210.7" fill="none" stroke="#e07d02" stroke-width="1.7" stroke-linejoin="round" stroke-linecap="round"/>
<path d="M114.2,208.06 L114.7,207.91 L115.2,207.84 L115.7,208.33 L116.2,208.11 L116.7,207.96 L117.2,207.93 L117.7,207.56 L118.2,207.77 L118.7,207.96 L119.2,208.23 L119.7,207.66 L120.2,207.89 L120.7,208.33 L121.2,208.12 L121.7,208.07 L122.2,208.2 L122.7,207.98 L123.2,207.97 L123.7,208.12 L124.2,208.14 L124.7,207.81 L125.2,208.25 L125.7,207.69 L126.2,207.87 L126.7,208.51 L127.2,207.89 L127.7,208.09 L128.2,207.8 L128.7,207.92 L129.2,207.85 L129.7,207.9 L130.2,208.07 L130.7,208.25 L131.2,208 L131.7,207.9 L132.2,207.24 L132.7,207.19 L133.2,206.6 L133.7,206.27 L134.2,205.5 L134.7,205.08 L135.2,204.85 L135.7,204.17 L136.2,203.47 L136.7,202.68 L137.2,202.08 L137.7,201.44 L138.2,200.71 L138.7,199.68 L139.2,198.81 L139.7,197.97 L140.2,196.67 L140.7,195.92 L141.2,194.61 L141.7,193.41 L142.2,191.77 L142.7,190.48 L143.2,189.08 L143.7,187.71 L144.2,186.34 L144.7,185.43 L145.2,184.17 L145.7,183.14 L146.2,182.45 L146.7,183.09 L147.2,182.94 L147.7,183.3 L148.2,183.35 L148.7,183.76 L149.2,184.2 L149.7,184.44 L150.2,184.87 L150.7,184.94 L151.2,185.53 L151.7,185.03 L152.2,185.32 L152.7,185.55 L153.2,185.19 L153.7,184.93 L154.2,184.39 L154.7,184.53 L155.2,183.6 L155.7,183.59 L156.2,183.11 L156.7,182.81 L157.2,182.53 L157.7,181.83 L158.2,181.55 L158.7,181.46 L159.2,181.14 L159.7,181.71 L160.2,181.97 L160.7,182.75 L161.2,183.33 L161.7,184.41 L162.2,185.74 L162.7,187.75 L163.2,189.67 L163.7,192 L164.2,193.29 L164.7,193.84 L165.2,194.45 L165.7,194.19 L166.2,193.93 L166.7,194.28 L167.2,193.59 L167.7,193.08 L168.2,192.89 L168.7,192.59 L169.2,191.78 L169.7,191.17 L170.2,190.19 L170.7,188.92 L171.2,188.17 L171.7,187.53 L172.2,186.83 L172.7,186.59 L173.2,186.96 L173.7,187.37 L174.2,187.82 L174.7,188.92 L175.2,190.02 L175.7,191.18 L176.2,192.19 L176.7,193.98 L177.2,195.35 L177.7,197.28 L178.2,199.49 L178.7,200.95 L179.2,202.77 L179.7,204.27 L180.2,204.67 L180.7,205.37 L181.2,206.27 L181.7,206.67 L182.2,207.04 L182.7,207.43 L183.2,207.51 L183.7,207.81 L184.2,207.73 L184.7,208.19 L185.2,207.86 L185.7,207.71 L186.2,207.76 L186.7,207.78 L187.2,207.53 L187.7,207.63 L188.2,208.03 L188.7,207.53 L189.2,207.67 L189.7,207.94 L190.2,208.02 L190.7,207.59 L191.2,208.01 L191.7,207.7 L192.2,208.05 L192.7,207.85 L193.2,207.72 L193.7,207.89 L194.2,207.86 L194.7,207.63 L195.2,208.13 L195.7,207.7 L196.2,207.95 L196.7,207.67 L197.2,207.44 L197.7,207.56 L198.2,207.73 L198.7,207.86 L199.2,208.05 L199.7,207.76 L200.2,207.69 L200.7,207.53 L201.2,207.73 L201.7,207.78 L202.2,207.35 L202.7,207.95 L203.2,207.92 L203.7,208.11 L204.2,207.56 L204.7,207.72 L205.2,207.71 L205.7,207.47 L206,207.55" fill="none" stroke="#e07d02" stroke-width="1.7" stroke-linejoin="round" stroke-linecap="round"/>
<path d="M114.2,205.63 L114.7,205.88 L115.2,205.87 L115.7,206.03 L116.2,205.73 L116.7,205.56 L117.2,205.87 L117.7,205.85 L118.2,205.9 L118.7,206 L119.2,205.69 L119.7,205.92 L120.2,205.61 L120.7,205.8 L121.2,205.89 L121.7,205.75 L122.2,205.8 L122.7,205.52 L123.2,205.65 L123.7,205.78 L124.2,205.54 L124.7,205.59 L125.2,206.15 L125.7,205.77 L126.2,205.58 L126.7,205.53 L127.2,205.94 L127.7,205.21 L128.2,205.62 L128.7,205.77 L129.2,205.56 L129.7,205.73 L130.2,205.45 L130.7,205.61 L131.2,205.61 L131.7,205.58 L132.2,205.45 L132.7,205.16 L133.2,204.97 L133.7,204.29 L134.2,203.75 L134.7,203.3 L135.2,202.79 L135.7,202.07 L136.2,201.42 L136.7,200.87 L137.2,200.44 L137.7,199.53 L138.2,198.78 L138.7,198.5 L139.2,197.32 L139.7,196.12 L140.2,194.98 L140.7,194.19 L141.2,192.62 L141.7,191.72 L142.2,190.33 L142.7,189.03 L143.2,187.09 L143.7,185.76 L144.2,183.81 L144.7,182.82 L145.2,181.71 L145.7,180.47 L146.2,179.41 L146.7,179.84 L147.2,179.93 L147.7,180.04 L148.2,180.19 L148.7,180.57 L149.2,180.85 L149.7,181.44 L150.2,181.67 L150.7,182.05 L151.2,182.22 L151.7,182.05 L152.2,182.36 L152.7,182.66 L153.2,181.96 L153.7,181.95 L154.2,181.45 L154.7,181.05 L155.2,180.82 L155.7,180.5 L156.2,180.03 L156.7,179.55 L157.2,179.23 L157.7,178.45 L158.2,178.6 L158.7,178.34 L159.2,178.17 L159.7,178.36 L160.2,178.71 L160.7,179.78 L161.2,180.3 L161.7,181.15 L162.2,183.04 L162.7,185.05 L163.2,187.38 L163.7,189.71 L164.2,190.97 L164.7,191.69 L165.2,192.03 L165.7,191.28 L166.2,191.38 L166.7,191.26 L167.2,191.02 L167.7,190.83 L168.2,189.99 L168.7,189.63 L169.2,188.76 L169.7,187.84 L170.2,186.9 L170.7,185.91 L171.2,185.46 L171.7,184.95 L172.2,184.31 L172.7,184.63 L173.2,184.78 L173.7,185.38 L174.2,186.01 L174.7,187.69 L175.2,188.73 L175.7,189.64 L176.2,190.96 L176.7,192.5 L177.2,194.7 L177.7,196.56 L178.2,198.53 L178.7,200.1 L179.2,201.07 L179.7,201.81 L180.2,202.78 L180.7,203.02 L181.2,203.89 L181.7,204.45 L182.2,204.43 L182.7,205.02 L183.2,205.03 L183.7,205.12 L184.2,204.92 L184.7,205.02 L185.2,205.1 L185.7,205.34 L186.2,205.15 L186.7,205.11 L187.2,204.81 L187.7,205.09 L188.2,204.91 L188.7,205.02 L189.2,205.07 L189.7,205.19 L190.2,205.13 L190.7,205.06 L191.2,205.01 L191.7,205.25 L192.2,204.87 L192.7,205.02 L193.2,205.25 L193.7,204.98 L194.2,205.15 L194.7,205.15 L195.2,205.34 L195.7,205.19 L196.2,204.71 L196.7,204.98 L197.2,205.03 L197.7,205.11 L198.2,205.03 L198.7,205.28 L199.2,205.13 L199.7,204.73 L200.2,204.82 L200.7,204.56 L201.2,205.2 L201.7,204.87 L202.2,204.85 L202.7,204.59 L203.2,204.78 L203.7,204.91 L204.2,204.75 L204.7,204.74 L205.2,204.68 L205.5,205.12" fill="none" stroke="#e07d02" stroke-width="1.7" stroke-linejoin="round" stroke-linecap="round"/>
<path d="M114.2,203.08 L114.7,202.93 L115.2,203.08 L115.7,203.11 L116.2,203.15 L116.7,203.13 L117.2,202.97 L117.7,203.13 L118.2,203.23 L118.7,202.92 L119.2,203.5 L119.7,203.44 L120.2,202.83 L120.7,203.08 L121.2,203.31 L121.7,203.37 L122.2,203.44 L122.7,202.8 L123.2,202.93 L123.7,203.02 L124.2,203.2 L124.7,202.91 L125.2,203.16 L125.7,203.16 L126.2,203.19 L126.7,202.84 L127.2,203.08 L127.7,203.05 L128.2,202.95 L128.7,203.24 L129.2,202.95 L129.7,203.24 L130.2,202.87 L130.7,203.25 L131.2,203.23 L131.7,202.78 L132.2,202.96 L132.7,202.91 L133.2,202.48 L133.7,202.45 L134.2,201.98 L134.7,201.22 L135.2,200.84 L135.7,200.42 L136.2,199.69 L136.7,198.98 L137.2,198.7 L137.7,197.5 L138.2,196.91 L138.7,196.18 L139.2,195.21 L139.7,193.79 L140.2,192.98 L140.7,191.84 L141.2,190.57 L141.7,189.39 L142.2,188 L142.7,186.5 L143.2,184.88 L143.7,183.25 L144.2,181.57 L144.7,179.53 L145.2,178.84 L145.7,176.98 L146.2,176.31 L146.7,175.78 L147.2,176.08 L147.7,176.15 L148.2,176.82 L148.7,177.1 L149.2,177.29 L149.7,177.6 L150.2,178.03 L150.7,178.1 L151.2,178.41 L151.7,178.55 L152.2,178.9 L152.7,178.73 L153.2,178.34 L153.7,178.37 L154.2,178.06 L154.7,177.81 L155.2,177.04 L155.7,176.74 L156.2,176.57 L156.7,175.7 L157.2,175.29 L157.7,175.08 L158.2,174.62 L158.7,174.52 L159.2,174.36 L159.7,174.49 L160.2,175.32 L160.7,175.89 L161.2,176.69 L161.7,177.92 L162.2,179.81 L162.7,182.23 L163.2,184.77 L163.7,187.06 L164.2,188.02 L164.7,188.63 L165.2,188.28 L165.7,188.47 L166.2,188.28 L166.7,187.79 L167.2,187.42 L167.7,187.07 L168.2,186.55 L168.7,186.29 L169.2,185.75 L169.7,184.39 L170.2,184.05 L170.7,182.99 L171.2,182.16 L171.7,182.1 L172.2,182.01 L172.7,182.19 L173.2,182.67 L173.7,183.86 L174.2,184.54 L174.7,185.8 L175.2,186.91 L175.7,187.89 L176.2,189.34 L176.7,191.21 L177.2,193.38 L177.7,195.38 L178.2,196.66 L178.7,198.13 L179.2,199.33 L179.7,199.42 L180.2,200.44 L180.7,200.98 L181.2,201.53 L181.7,201.52 L182.2,202.08 L182.7,201.89 L183.2,202.36 L183.7,201.98 L184.2,202.2 L184.7,201.99 L185.2,202.16 L185.7,201.87 L186.2,202.18 L186.7,202.23 L187.2,202.13 L187.7,202.41 L188.2,202.19 L188.7,202.26 L189.2,202.21 L189.7,202.45 L190.2,202.01 L190.7,202.07 L191.2,202.08 L191.7,202.22 L192.2,202.15 L192.7,202.25 L193.2,202.15 L193.7,202.01 L194.2,202.08 L194.7,202.16 L195.2,201.68 L195.7,202.31 L196.2,201.96 L196.7,201.99 L197.2,202.09 L197.7,201.99 L198.2,201.78 L198.7,201.98 L199.2,202.24 L199.7,202.17 L200.2,202.19 L200.7,201.87 L201.2,201.92 L201.7,202.12 L202.2,202.18 L202.7,201.91 L203.2,201.72 L203.7,201.53 L204.2,202.1 L204.7,201.56 L205.2,201.88 L205.5,201.95" fill="none" stroke="#e07d02" stroke-width="1.7" stroke-linejoin="round" stroke-linecap="round"/>
<path d="M114.2,200.56 L114.7,200.03 L115.2,199.98 L115.7,200.08 L116.2,200.08 L116.7,200.23 L117.2,200.11 L117.7,199.86 L118.2,199.62 L118.7,200.04 L119.2,199.87 L119.7,200.23 L120.2,199.75 L120.7,200.01 L121.2,199.85 L121.7,199.82 L122.2,200.26 L122.7,199.99 L123.2,199.92 L123.7,200.08 L124.2,199.81 L124.7,199.87 L125.2,199.82 L125.7,200.27 L126.2,199.97 L126.7,200.02 L127.2,200.09 L127.7,199.85 L128.2,199.85 L128.7,199.58 L129.2,199.94 L129.7,199.88 L130.2,199.75 L130.7,200.02 L131.2,199.48 L131.7,199.85 L132.2,199.52 L132.7,199.55 L133.2,199.69 L133.7,199.88 L134.2,199.17 L134.7,198.78 L135.2,198.22 L135.7,198.2 L136.2,197.32 L136.7,196.7 L137.2,196.34 L137.7,195.28 L138.2,194.04 L138.7,193.43 L139.2,192.36 L139.7,191.92 L140.2,190.24 L140.7,189.34 L141.2,187.88 L141.7,186.49 L142.2,185.08 L142.7,183.51 L143.2,181.75 L143.7,179.75 L144.2,177.9 L144.7,176.02 L145.2,174.51 L145.7,173.08 L146.2,171.81 L146.7,171.6 L147.2,171.57 L147.7,172.15 L148.2,171.95 L148.7,172.24 L149.2,172.96 L149.7,173.03 L150.2,173.53 L150.7,174.01 L151.2,174.09 L151.7,174.23 L152.2,174.55 L152.7,174.4 L153.2,174.08 L153.7,173.69 L154.2,173.48 L154.7,172.84 L155.2,172.51 L155.7,171.99 L156.2,171.75 L156.7,171.36 L157.2,170.68 L157.7,170.34 L158.2,169.93 L158.7,169.69 L159.2,169.78 L159.7,170.17 L160.2,170.75 L160.7,171.64 L161.2,172.47 L161.7,173.34 L162.2,176.15 L162.7,178.85 L163.2,181.44 L163.7,183.67 L164.2,185.08 L164.7,185.58 L165.2,185.05 L165.7,185.06 L166.2,184.64 L166.7,184.29 L167.2,183.8 L167.7,183.41 L168.2,182.76 L168.7,182.4 L169.2,181.5 L169.7,180.57 L170.2,179.93 L170.7,179.23 L171.2,179.27 L171.7,178.73 L172.2,178.9 L172.7,179.17 L173.2,180 L173.7,181.37 L174.2,182.26 L174.7,183.48 L175.2,184.95 L175.7,186.56 L176.2,188.14 L176.7,190.04 L177.2,191.89 L177.7,193.49 L178.2,195.24 L178.7,195.54 L179.2,196.46 L179.7,196.8 L180.2,197.53 L180.7,198.34 L181.2,198.75 L181.7,198.99 L182.2,198.97 L182.7,198.9 L183.2,198.93 L183.7,198.96 L184.2,199.22 L184.7,199.28 L185.2,199.1 L185.7,198.93 L186.2,198.86 L186.7,199.08 L187.2,198.98 L187.7,198.7 L188.2,199.26 L188.7,199.02 L189.2,198.96 L189.7,198.86 L190.2,198.86 L190.7,199.17 L191.2,198.84 L191.7,199.02 L192.2,199.11 L192.7,199.32 L193.2,199.1 L193.7,198.98 L194.2,198.9 L194.7,199.12 L195.2,199.14 L195.7,198.88 L196.2,199.05 L196.7,198.92 L197.2,198.65 L197.7,198.75 L198.2,199.06 L198.7,199.16 L199.2,199.01 L199.7,198.84 L200.2,198.74 L200.7,198.95 L201.2,198.9 L201.7,198.54 L202.2,198.92 L202.7,198.66 L203.2,198.89 L203.7,198.85 L204.2,198.86 L204.7,198.9 L205,198.82" fill="none" stroke="#e07d02" stroke-width="1.7" stroke-linejoin="round" stroke-linecap="round"/>
<path d="M114.2,196.51 L114.7,196.52 L115.2,196.88 L115.7,196.78 L116.2,196.42 L116.7,196.34 L117.2,196.86 L117.7,197.09 L118.2,196.84 L118.7,196.65 L119.2,196.74 L119.7,196.21 L120.2,196.51 L120.7,196.87 L121.2,196.84 L121.7,196.31 L122.2,196.89 L122.7,196.77 L123.2,196.84 L123.7,196.63 L124.2,196.67 L124.7,196.47 L125.2,196.71 L125.7,196.81 L126.2,196.48 L126.7,196.71 L127.2,196.54 L127.7,196.81 L128.2,196.79 L128.7,196.2 L129.2,196.69 L129.7,196.78 L130.2,196.49 L130.7,196.54 L131.2,196.54 L131.7,196.36 L132.2,196.53 L132.7,196.81 L133.2,196.61 L133.7,196.78 L134.2,196.68 L134.7,196.58 L135.2,196.03 L135.7,195.63 L136.2,195.22 L136.7,194.43 L137.2,193.53 L137.7,192.65 L138.2,191.8 L138.7,191.1 L139.2,190.14 L139.7,188.66 L140.2,187.88 L140.7,186.69 L141.2,185.32 L141.7,183.66 L142.2,182.54 L142.7,180.59 L143.2,178.42 L143.7,176.54 L144.2,174.59 L144.7,172.37 L145.2,170.44 L145.7,168.61 L146.2,166.97 L146.7,166.28 L147.2,166.25 L147.7,166.72 L148.2,166.42 L148.7,167.14 L149.2,167.88 L149.7,167.94 L150.2,168.27 L150.7,169.18 L151.2,169.33 L151.7,169.33 L152.2,169.35 L152.7,169.37 L153.2,169.17 L153.7,168.9 L154.2,168.43 L154.7,168.21 L155.2,167.53 L155.7,166.79 L156.2,166.36 L156.7,166.09 L157.2,165.45 L157.7,164.8 L158.2,165.19 L158.7,164.8 L159.2,164.56 L159.7,164.8 L160.2,165.67 L160.7,166.78 L161.2,167.53 L161.7,169.3 L162.2,171.67 L162.7,174.84 L163.2,177.51 L163.7,179.73 L164.2,181.28 L164.7,181.29 L165.2,181.26 L165.7,180.75 L166.2,180.78 L166.7,180.19 L167.2,180.08 L167.7,179.34 L168.2,179.11 L168.7,178.17 L169.2,177.51 L169.7,176.98 L170.2,175.89 L170.7,175.54 L171.2,175.77 L171.7,175.16 L172.2,175.72 L172.7,176.65 L173.2,177.81 L173.7,178.6 L174.2,179.9 L174.7,180.86 L175.2,182.52 L175.7,184.6 L176.2,186.43 L176.7,188.31 L177.2,190.16 L177.7,191.53 L178.2,192.49 L178.7,193.18 L179.2,193.81 L179.7,194.77 L180.2,195.01 L180.7,195.83 L181.2,196.31 L181.7,196.29 L182.2,196.43 L182.7,195.84 L183.2,196.07 L183.7,195.88 L184.2,195.89 L184.7,195.72 L185.2,195.81 L185.7,196.17 L186.2,196.15 L186.7,196.23 L187.2,196.22 L187.7,196.16 L188.2,195.88 L188.7,196 L189.2,196.15 L189.7,196.24 L190.2,195.95 L190.7,195.93 L191.2,195.94 L191.7,196.29 L192.2,196.11 L192.7,195.95 L193.2,195.87 L193.7,196.07 L194.2,195.7 L194.7,195.95 L195.2,195.88 L195.7,195.88 L196.2,196.01 L196.7,196.04 L197.2,196.5 L197.7,195.97 L198.2,196.07 L198.7,195.8 L199.2,195.64 L199.7,196.13 L200.2,196.26 L200.7,195.73 L201.2,195.88 L201.7,196.08 L202.2,195.89 L202.7,195.44 L203.2,196.03 L203.7,195.81 L204.2,195.95 L204.7,195.64 L205,195.96" fill="none" stroke="#e07d02" stroke-width="1.7" stroke-linejoin="round" stroke-linecap="round"/>
<path d="M114.2,193.68 L114.7,193.38 L115.2,193.59 L115.7,193.39 L116.2,193.41 L116.7,193.34 L117.2,193.43 L117.7,193.38 L118.2,193.7 L118.7,193.46 L119.2,193.3 L119.7,193.74 L120.2,193.59 L120.7,193.67 L121.2,193.48 L121.7,193.61 L122.2,193.47 L122.7,193.32 L123.2,193.5 L123.7,193.51 L124.2,193.5 L124.7,193.62 L125.2,193.17 L125.7,193.52 L126.2,193.33 L126.7,193.41 L127.2,193.54 L127.7,193.46 L128.2,193.33 L128.7,193.58 L129.2,193.43 L129.7,193.6 L130.2,193.64 L130.7,193.36 L131.2,193.22 L131.7,193.42 L132.2,193.54 L132.7,193.45 L133.2,193.18 L133.7,193.08 L134.2,193.2 L134.7,193.19 L135.2,193.45 L135.7,193.12 L136.2,192.78 L136.7,191.95 L137.2,191.48 L137.7,190.38 L138.2,189.67 L138.7,188.6 L139.2,187.72 L139.7,186.69 L140.2,185.4 L140.7,184.16 L141.2,182.41 L141.7,180.99 L142.2,179.43 L142.7,177.26 L143.2,175.17 L143.7,173.04 L144.2,170.52 L144.7,168.03 L145.2,165.86 L145.7,163.64 L146.2,161.5 L146.7,160.2 L147.2,160.15 L147.7,160.95 L148.2,160.77 L148.7,161.26 L149.2,161.6 L149.7,162.18 L150.2,162.53 L150.7,163.04 L151.2,163.62 L151.7,163.48 L152.2,163.81 L152.7,163.66 L153.2,163.6 L153.7,163.04 L154.2,162.81 L154.7,162.08 L155.2,161.4 L155.7,160.92 L156.2,160.41 L156.7,159.83 L157.2,159.47 L157.7,159.28 L158.2,158.56 L158.7,158.61 L159.2,158.48 L159.7,158.64 L160.2,159.4 L160.7,160.74 L161.2,161.99 L161.7,163.84 L162.2,166.94 L162.7,170.46 L163.2,173.53 L163.7,176.21 L164.2,177.2 L164.7,177.37 L165.2,176.61 L165.7,176.35 L166.2,176.12 L166.7,175.6 L167.2,175.25 L167.7,174.85 L168.2,174.23 L168.7,173.65 L169.2,173.11 L169.7,172.18 L170.2,172.08 L170.7,171.28 L171.2,171.84 L171.7,171.96 L172.2,172.38 L172.7,173.65 L173.2,174.63 L173.7,175.99 L174.2,177.28 L174.7,178.72 L175.2,180.51 L175.7,182.64 L176.2,184.52 L176.7,186.36 L177.2,187.8 L177.7,188.72 L178.2,190.17 L178.7,190.86 L179.2,191.24 L179.7,192.19 L180.2,192.64 L180.7,192.53 L181.2,192.84 L181.7,192.97 L182.2,193.28 L182.7,193.17 L183.2,193.2 L183.7,193.04 L184.2,193.16 L184.7,192.79 L185.2,193.09 L185.7,193.11 L186.2,192.77 L186.7,193.03 L187.2,193.24 L187.7,193.31 L188.2,193.22 L188.7,192.86 L189.2,192.97 L189.7,192.89 L190.2,193.19 L190.7,192.83 L191.2,192.8 L191.7,192.7 L192.2,193 L192.7,193.04 L193.2,192.86 L193.7,192.83 L194.2,192.93 L194.7,193.18 L195.2,192.72 L195.7,192.94 L196.2,192.98 L196.7,193 L197.2,193.15 L197.7,193.07 L198.2,192.97 L198.7,193.17 L199.2,193.1 L199.7,192.95 L200.2,192.94 L200.7,192.69 L201.2,192.9 L201.7,192.74 L202.2,192.67 L202.7,192.81 L203.2,192.55 L203.7,192.68 L204.2,192.73 L204.7,192.87 L204.8,192.75" fill="none" stroke="#e07d02" stroke-width="1.7" stroke-linejoin="round" stroke-linecap="round"/>
<line x1="78" y1="25.8" x2="78" y2="55.5" stroke="#000" stroke-width="1.9" />
<line x1="65.5" y1="80.5" x2="65.5" y2="117.5" stroke="#000" stroke-width="1.9" />
<line x1="63.6" y1="101" x2="63.6" y2="127.8" stroke="#000" stroke-width="1.9" />
<line x1="39.7" y1="115" x2="39.7" y2="131" stroke="#000" stroke-width="1.9" />
<line x1="53.3" y1="120" x2="53.3" y2="140" stroke="#000" stroke-width="1.9" />
<line x1="76.3" y1="132.5" x2="76.3" y2="149" stroke="#000" stroke-width="1.9" />
<line x1="74.8" y1="153.5" x2="74.8" y2="163" stroke="#000" stroke-width="1.9" />
<line x1="75.2" y1="178.8" x2="75.2" y2="188.7" stroke="#000" stroke-width="1.9" />
<line x1="56.6" y1="187.2" x2="56.6" y2="198.3" stroke="#000" stroke-width="1.9" />
<line x1="80.3" y1="191.7" x2="80.3" y2="200.9" stroke="#000" stroke-width="1.9" />
<line x1="84.8" y1="197" x2="84.8" y2="204" stroke="#000" stroke-width="1.9" />
<line x1="92.1" y1="204.5" x2="92.1" y2="209.5" stroke="#000" stroke-width="1.9" />
<line x1="96.6" y1="209.5" x2="96.6" y2="213.5" stroke="#000" stroke-width="1.9" />
<line x1="34.5" y1="122.9" x2="45" y2="122.9" stroke="#000" stroke-width="1.9" />
<line x1="52.2" y1="191.3" x2="58.7" y2="191.3" stroke="#000" stroke-width="1.9" />
<path d="M78,41 L65.5,98.5 L63.6,114.4 L39.7,122.9 L53.3,129.7 L76.3,142.2 L74.8,162.8 L75.2,182.5 L57.9,190.5 L55.5,192 L80.3,196.8 L84.8,199.9 L92.1,206.9 L96.6,211.3 L97.2,226.3" fill="none" stroke="#000" stroke-width="1.9" stroke-linejoin="round"/>
<circle cx="78" cy="41" r="2.0" fill="#fff" stroke="#000" stroke-width="1.7"/>
<circle cx="65.5" cy="98.5" r="2.0" fill="#fff" stroke="#000" stroke-width="1.7"/>
<circle cx="63.6" cy="114.4" r="2.0" fill="#fff" stroke="#000" stroke-width="1.7"/>
<circle cx="39.7" cy="122.9" r="2.0" fill="#fff" stroke="#000" stroke-width="1.7"/>
<circle cx="53.3" cy="129.7" r="2.0" fill="#fff" stroke="#000" stroke-width="1.7"/>
<circle cx="76.3" cy="142.2" r="2.0" fill="#fff" stroke="#000" stroke-width="1.7"/>
<circle cx="74.8" cy="162.8" r="2.0" fill="#fff" stroke="#000" stroke-width="1.7"/>
<circle cx="75.2" cy="182.5" r="2.0" fill="#fff" stroke="#000" stroke-width="1.7"/>
<circle cx="57.9" cy="190.5" r="2.0" fill="#fff" stroke="#000" stroke-width="1.7"/>
<circle cx="55.5" cy="192" r="2.0" fill="#fff" stroke="#000" stroke-width="1.7"/>
<circle cx="80.3" cy="196.8" r="2.0" fill="#fff" stroke="#000" stroke-width="1.7"/>
<circle cx="84.8" cy="199.9" r="2.0" fill="#fff" stroke="#000" stroke-width="1.7"/>
<circle cx="92.1" cy="206.9" r="2.0" fill="#fff" stroke="#000" stroke-width="1.7"/>
<circle cx="96.6" cy="211.3" r="2.0" fill="#fff" stroke="#000" stroke-width="1.7"/>
<circle cx="97.2" cy="226.3" r="2.0" fill="#fff" stroke="#000" stroke-width="1.7"/>
<line x1="34" y1="121.5" x2="224" y2="121.5" stroke="#262626" stroke-width="1.0" stroke-dasharray="1 1"/>
<line x1="34" y1="191.5" x2="224" y2="191.5" stroke="#262626" stroke-width="1.0" stroke-dasharray="1 1"/>
<rect x="33.3" y="2.2" width="64.3" height="234.2" fill="none" stroke="#303030" stroke-width="0.8"/>
<rect x="107.7" y="2.2" width="116.3" height="234.2" fill="none" stroke="#303030" stroke-width="0.8"/>
<line x1="39.73" y1="236.4" x2="39.73" y2="234.4" stroke="#303030" stroke-width="0.8" />
<line x1="39.73" y1="2.2" x2="39.73" y2="4.2" stroke="#303030" stroke-width="0.8" />
<line x1="59.02" y1="236.4" x2="59.02" y2="234.4" stroke="#303030" stroke-width="0.8" />
<line x1="59.02" y1="2.2" x2="59.02" y2="4.2" stroke="#303030" stroke-width="0.8" />
<line x1="78.31" y1="236.4" x2="78.31" y2="234.4" stroke="#303030" stroke-width="0.8" />
<line x1="78.31" y1="2.2" x2="78.31" y2="4.2" stroke="#303030" stroke-width="0.8" />
<line x1="97.6" y1="236.4" x2="97.6" y2="234.4" stroke="#303030" stroke-width="0.8" />
<line x1="97.6" y1="2.2" x2="97.6" y2="4.2" stroke="#303030" stroke-width="0.8" />
<line x1="33.3" y1="12.4" x2="35.3" y2="12.4" stroke="#303030" stroke-width="0.8" />
<line x1="97.6" y1="12.4" x2="95.6" y2="12.4" stroke="#303030" stroke-width="0.8" />
<line x1="33.3" y1="41.23" x2="35.3" y2="41.23" stroke="#303030" stroke-width="0.8" />
<line x1="97.6" y1="41.23" x2="95.6" y2="41.23" stroke="#303030" stroke-width="0.8" />
<line x1="33.3" y1="70.06" x2="35.3" y2="70.06" stroke="#303030" stroke-width="0.8" />
<line x1="97.6" y1="70.06" x2="95.6" y2="70.06" stroke="#303030" stroke-width="0.8" />
<line x1="33.3" y1="98.88" x2="35.3" y2="98.88" stroke="#303030" stroke-width="0.8" />
<line x1="97.6" y1="98.88" x2="95.6" y2="98.88" stroke="#303030" stroke-width="0.8" />
<line x1="33.3" y1="127.71" x2="35.3" y2="127.71" stroke="#303030" stroke-width="0.8" />
<line x1="97.6" y1="127.71" x2="95.6" y2="127.71" stroke="#303030" stroke-width="0.8" />
<line x1="33.3" y1="156.54" x2="35.3" y2="156.54" stroke="#303030" stroke-width="0.8" />
<line x1="97.6" y1="156.54" x2="95.6" y2="156.54" stroke="#303030" stroke-width="0.8" />
<line x1="33.3" y1="185.37" x2="35.3" y2="185.37" stroke="#303030" stroke-width="0.8" />
<line x1="97.6" y1="185.37" x2="95.6" y2="185.37" stroke="#303030" stroke-width="0.8" />
<line x1="33.3" y1="214.2" x2="35.3" y2="214.2" stroke="#303030" stroke-width="0.8" />
<line x1="97.6" y1="214.2" x2="95.6" y2="214.2" stroke="#303030" stroke-width="0.8" />
<line x1="120.5" y1="236.4" x2="120.5" y2="234.4" stroke="#303030" stroke-width="0.8" />
<line x1="120.5" y1="2.2" x2="120.5" y2="4.2" stroke="#303030" stroke-width="0.8" />
<line x1="152.66" y1="236.4" x2="152.66" y2="234.4" stroke="#303030" stroke-width="0.8" />
<line x1="152.66" y1="2.2" x2="152.66" y2="4.2" stroke="#303030" stroke-width="0.8" />
<line x1="184.83" y1="236.4" x2="184.83" y2="234.4" stroke="#303030" stroke-width="0.8" />
<line x1="184.83" y1="2.2" x2="184.83" y2="4.2" stroke="#303030" stroke-width="0.8" />
<line x1="217" y1="236.4" x2="217" y2="234.4" stroke="#303030" stroke-width="0.8" />
<line x1="217" y1="2.2" x2="217" y2="4.2" stroke="#303030" stroke-width="0.8" />
<line x1="107.7" y1="12.4" x2="109.7" y2="12.4" stroke="#303030" stroke-width="0.8" />
<line x1="224" y1="12.4" x2="222" y2="12.4" stroke="#303030" stroke-width="0.8" />
<line x1="107.7" y1="41.23" x2="109.7" y2="41.23" stroke="#303030" stroke-width="0.8" />
<line x1="224" y1="41.23" x2="222" y2="41.23" stroke="#303030" stroke-width="0.8" />
<line x1="107.7" y1="70.06" x2="109.7" y2="70.06" stroke="#303030" stroke-width="0.8" />
<line x1="224" y1="70.06" x2="222" y2="70.06" stroke="#303030" stroke-width="0.8" />
<line x1="107.7" y1="98.88" x2="109.7" y2="98.88" stroke="#303030" stroke-width="0.8" />
<line x1="224" y1="98.88" x2="222" y2="98.88" stroke="#303030" stroke-width="0.8" />
<line x1="107.7" y1="127.71" x2="109.7" y2="127.71" stroke="#303030" stroke-width="0.8" />
<line x1="224" y1="127.71" x2="222" y2="127.71" stroke="#303030" stroke-width="0.8" />
<line x1="107.7" y1="156.54" x2="109.7" y2="156.54" stroke="#303030" stroke-width="0.8" />
<line x1="224" y1="156.54" x2="222" y2="156.54" stroke="#303030" stroke-width="0.8" />
<line x1="107.7" y1="185.37" x2="109.7" y2="185.37" stroke="#303030" stroke-width="0.8" />
<line x1="224" y1="185.37" x2="222" y2="185.37" stroke="#303030" stroke-width="0.8" />
<line x1="107.7" y1="214.2" x2="109.7" y2="214.2" stroke="#303030" stroke-width="0.8" />
<line x1="224" y1="214.2" x2="222" y2="214.2" stroke="#303030" stroke-width="0.8" />
<text x="29.6" y="16.15" font-family='"Liberation Sans", sans-serif' font-size="10.2" text-anchor="end" fill="#111" >16</text>
<text x="227.6" y="16.15" font-family='"Liberation Sans", sans-serif' font-size="10.2" text-anchor="start" fill="#111" >16</text>
<text x="29.6" y="44.98" font-family='"Liberation Sans", sans-serif' font-size="10.2" text-anchor="end" fill="#111" >14</text>
<text x="227.6" y="44.98" font-family='"Liberation Sans", sans-serif' font-size="10.2" text-anchor="start" fill="#111" >14</text>
<text x="29.6" y="73.81" font-family='"Liberation Sans", sans-serif' font-size="10.2" text-anchor="end" fill="#111" >12</text>
<text x="227.6" y="73.81" font-family='"Liberation Sans", sans-serif' font-size="10.2" text-anchor="start" fill="#111" >12</text>
<text x="29.6" y="102.63" font-family='"Liberation Sans", sans-serif' font-size="10.2" text-anchor="end" fill="#111" >10</text>
<text x="227.6" y="102.63" font-family='"Liberation Sans", sans-serif' font-size="10.2" text-anchor="start" fill="#111" >10</text>
<text x="29.6" y="131.46" font-family='"Liberation Sans", sans-serif' font-size="10.2" text-anchor="end" fill="#111" >8</text>
<text x="227.6" y="131.46" font-family='"Liberation Sans", sans-serif' font-size="10.2" text-anchor="start" fill="#111" >8</text>
<text x="29.6" y="160.29" font-family='"Liberation Sans", sans-serif' font-size="10.2" text-anchor="end" fill="#111" >6</text>
<text x="227.6" y="160.29" font-family='"Liberation Sans", sans-serif' font-size="10.2" text-anchor="start" fill="#111" >6</text>
<text x="29.6" y="189.12" font-family='"Liberation Sans", sans-serif' font-size="10.2" text-anchor="end" fill="#111" >4</text>
<text x="227.6" y="189.12" font-family='"Liberation Sans", sans-serif' font-size="10.2" text-anchor="start" fill="#111" >4</text>
<text x="29.6" y="217.95" font-family='"Liberation Sans", sans-serif' font-size="10.2" text-anchor="end" fill="#111" >2</text>
<text x="227.6" y="217.95" font-family='"Liberation Sans", sans-serif' font-size="10.2" text-anchor="start" fill="#111" >2</text>
<text x="39.73" y="248.8" font-family='"Liberation Sans", sans-serif' font-size="10.2" text-anchor="middle" fill="#111" >45</text>
<text x="59.02" y="248.8" font-family='"Liberation Sans", sans-serif' font-size="10.2" text-anchor="middle" fill="#111" >30</text>
<text x="78.31" y="248.8" font-family='"Liberation Sans", sans-serif' font-size="10.2" text-anchor="middle" fill="#111" >15</text>
<text x="97.6" y="248.8" font-family='"Liberation Sans", sans-serif' font-size="10.2" text-anchor="middle" fill="#111" >0</text>
<text x="120.5" y="248.8" font-family='"Liberation Sans", sans-serif' font-size="10.2" text-anchor="middle" fill="#111" >0</text>
<text x="152.66" y="248.8" font-family='"Liberation Sans", sans-serif' font-size="10.2" text-anchor="middle" fill="#111" >0.5</text>
<text x="184.83" y="248.8" font-family='"Liberation Sans", sans-serif' font-size="10.2" text-anchor="middle" fill="#111" >1</text>
<text x="217" y="248.8" font-family='"Liberation Sans", sans-serif' font-size="10.2" text-anchor="middle" fill="#111" >1.5</text>
<text x="1.3" y="24.4" font-family='"Liberation Serif", serif' font-size="17" text-anchor="start" fill="#000" textLength="16.4" lengthAdjust="spacingAndGlyphs" stroke="#fff" stroke-width="0.3">(a)</text>
<text transform="translate(15.7,119) rotate(-90)" font-family='"Liberation Sans", sans-serif' font-size="11.8" text-anchor="middle" fill="#111">T (K)</text>
<text transform="translate(247.6,119.4) rotate(-90)" font-family='"Liberation Sans", sans-serif' font-size="11.8" text-anchor="middle" fill="#111">T (K)</text>
<text x="38" y="14.9" font-family='"Liberation Sans", sans-serif' font-size="10" fill="#111"><tspan font-style="italic">μ</tspan><tspan font-size="8.50" dy="4.80">0</tspan><tspan dx="-0.9" dy="-4.80">H = 37.7 T</tspan></text>
<text x="163.8" y="14.9" font-family='"Liberation Sans", sans-serif' font-size="10" fill="#111"><tspan font-style="italic">μ</tspan><tspan font-size="8.50" dy="4.80">0</tspan><tspan dx="-0.9" dy="-4.80">H = 37.7 T</tspan></text>
<text x="46.2" y="261.7" font-family='"Liberation Sans", sans-serif' font-size="11.8" text-anchor="start" fill="#111" >T</text>
<text x="52.8" y="257.6" font-family='"Liberation Sans", sans-serif' font-size="7.4" text-anchor="start" fill="#111" >-1</text>
<text x="53.4" y="267.8" font-family='"Liberation Sans", sans-serif' font-size="7.4" text-anchor="start" fill="#111" >1</text>
<text x="63.6" y="261.7" font-family='"Liberation Sans", sans-serif' font-size="11.8" text-anchor="start" fill="#111" >(s</text>
<text x="72.8" y="258.2" font-family='"Liberation Sans", sans-serif' font-size="7.4" text-anchor="start" fill="#111" >-1</text>
<text x="80.9" y="261.7" font-family='"Liberation Sans", sans-serif' font-size="11.8" text-anchor="start" fill="#111" >)</text>
<text x="165.8" y="262.2" font-family='"Liberation Sans", sans-serif' font-size="11.8" text-anchor="middle" fill="#111" >Shift (MHz)</text>
<line x1="305.8" y1="2.3" x2="305.8" y2="236.4" stroke="#e3e3e3" stroke-width="0.8" />
<line x1="339.04" y1="2.3" x2="339.04" y2="236.4" stroke="#e3e3e3" stroke-width="0.8" />
<line x1="372.27" y1="2.3" x2="372.27" y2="236.4" stroke="#e3e3e3" stroke-width="0.8" />
<line x1="405.5" y1="2.3" x2="405.5" y2="236.4" stroke="#e3e3e3" stroke-width="0.8" />
<line x1="290.8" y1="19.54" x2="408.7" y2="19.54" stroke="#e3e3e3" stroke-width="0.8" />
<line x1="290.8" y1="50.52" x2="408.7" y2="50.52" stroke="#e3e3e3" stroke-width="0.8" />
<line x1="290.8" y1="81.5" x2="408.7" y2="81.5" stroke="#e3e3e3" stroke-width="0.8" />
<line x1="290.8" y1="112.48" x2="408.7" y2="112.48" stroke="#e3e3e3" stroke-width="0.8" />
<line x1="290.8" y1="143.46" x2="408.7" y2="143.46" stroke="#e3e3e3" stroke-width="0.8" />
<line x1="290.8" y1="174.44" x2="408.7" y2="174.44" stroke="#e3e3e3" stroke-width="0.8" />
<line x1="290.8" y1="205.42" x2="408.7" y2="205.42" stroke="#e3e3e3" stroke-width="0.8" />
<line x1="439.25" y1="2.3" x2="439.25" y2="236.4" stroke="#e3e3e3" stroke-width="0.8" />
<line x1="455.3" y1="2.3" x2="455.3" y2="236.4" stroke="#e3e3e3" stroke-width="0.8" />
<line x1="471.35" y1="2.3" x2="471.35" y2="236.4" stroke="#e3e3e3" stroke-width="0.8" />
<line x1="422.6" y1="19.54" x2="487.6" y2="19.54" stroke="#e3e3e3" stroke-width="0.8" />
<line x1="422.6" y1="50.52" x2="487.6" y2="50.52" stroke="#e3e3e3" stroke-width="0.8" />
<line x1="422.6" y1="81.5" x2="487.6" y2="81.5" stroke="#e3e3e3" stroke-width="0.8" />
<line x1="422.6" y1="112.48" x2="487.6" y2="112.48" stroke="#e3e3e3" stroke-width="0.8" />
<line x1="422.6" y1="143.46" x2="487.6" y2="143.46" stroke="#e3e3e3" stroke-width="0.8" />
<line x1="422.6" y1="174.44" x2="487.6" y2="174.44" stroke="#e3e3e3" stroke-width="0.8" />
<line x1="422.6" y1="205.42" x2="487.6" y2="205.42" stroke="#e3e3e3" stroke-width="0.8" />
<path d="M305.7,46.67 L306.2,46.88 L306.7,46.74 L307.2,46.41 L307.7,46.3 L308.2,46.44 L308.7,46.44 L309.2,46.25 L309.7,46.29 L310.2,46.28 L310.7,46.46 L311.2,46.8 L311.7,46.84 L312.2,46.36 L312.7,46.45 L313.2,46.28 L313.7,46.22 L314.2,46.47 L314.7,46.47 L315.2,46.34 L315.7,46.54 L316.2,46.35 L316.7,46.58 L317.2,46.28 L317.7,46.49 L318.2,46.29 L318.7,46.32 L319.2,46.38 L319.7,46.02 L320.2,46.09 L320.7,46.17 L321.2,46.1 L321.7,46.16 L322.2,45.95 L322.7,45.82 L323.2,45.99 L323.7,46.02 L324.2,45.79 L324.7,46.09 L325.2,45.86 L325.7,45.58 L326.2,45.12 L326.7,44.27 L327.2,44.13 L327.7,42.94 L328.2,42.39 L328.7,41.72 L329.2,40.95 L329.7,40.26 L330.2,39.33 L330.7,38.54 L331.2,37.67 L331.7,36.89 L332.2,35.55 L332.7,34.77 L333.2,33.76 L333.7,32.8 L334.2,31.88 L334.7,31.26 L335.2,30.44 L335.7,30.39 L336.2,30.27 L336.7,30.18 L337.2,30.56 L337.7,30.86 L338.2,31.1 L338.7,31.85 L339.2,32.13 L339.7,33.13 L340.2,33 L340.7,33.43 L341.2,33.74 L341.7,34.04 L342.2,34.16 L342.7,33.66 L343.2,33.02 L343.7,32.67 L344.2,31.63 L344.7,30.42 L345.2,29.41 L345.7,28.13 L346.2,27.4 L346.7,26.78 L347.2,25.51 L347.7,24.63 L348.2,24 L348.7,22.63 L349.2,22.31 L349.7,20.87 L350.2,20.09 L350.7,19.32 L351.2,18.78 L351.7,17.98 L352.2,17.06 L352.7,16.72 L353.2,16.86 L353.7,16.48 L354.2,16.94 L354.7,17.08 L355.2,17.62 L355.7,17.92 L356.2,17.44 L356.7,17.95 L357.2,17.77 L357.7,17.12 L358.2,16.6 L358.7,15.88 L359.2,15.39 L359.7,14.93 L360.2,14.59 L360.7,14.27 L361.2,13.85 L361.7,14.31 L362.2,16.14 L362.7,17.72 L363.2,20.64 L363.7,23.9 L364.2,27.05 L364.7,29.15 L365.2,31.41 L365.7,32.54 L366.2,33.08 L366.7,33.03 L367.2,32.79 L367.7,32.8 L368.2,32.47 L368.7,32.3 L369.2,31.86 L369.7,31.35 L370.2,31.22 L370.7,30.97 L371.2,30.31 L371.7,30.31 L372.2,29.8 L372.7,29.34 L373.2,29.11 L373.7,28.78 L374.2,28.49 L374.7,28.65 L375.2,28.57 L375.7,28.37 L376.2,28.88 L376.7,29.79 L377.2,31.22 L377.7,32.9 L378.2,34.28 L378.7,36.28 L379.2,38.09 L379.7,39.99 L380.2,41.78 L380.7,42.8 L381.2,43.69 L381.7,44.69 L382.2,44.8 L382.7,45.68 L383.2,45.56 L383.7,45.89 L384.2,46.2 L384.7,46.38 L385.2,46.41 L385.7,46.57 L386.2,46.78 L386.7,46.6 L387.2,47 L387.7,46.77 L388.2,46.34 L388.7,46.92 L389.2,46.49 L389.7,46.87 L390.2,47.22 L390.7,47.04 L391.2,46.68 L391.7,46.75 L392.2,46.91 L392.7,47.17 L393.2,46.81 L393.7,47.14 L394.2,47.01 L394.7,46.95 L395.2,46.95 L395.7,47.27 L396.2,46.74 L396.7,46.8 L397.2,47.15 L397.7,47.17 L398.2,46.78 L398.6,46.85" fill="none" stroke="#e07d02" stroke-width="1.95" stroke-linejoin="round" stroke-linecap="round"/>
<path d="M291.1,71.91 L291.6,72.2 L292.1,71.99 L292.6,72.35 L293.1,72.23 L293.6,72.15 L294.1,72.14 L294.6,72.19 L295.1,72.24 L295.6,72.1 L296.1,72.14 L296.6,72.23 L297.1,72.08 L297.6,72.26 L298.1,72.06 L298.6,71.95 L299.1,72.11 L299.6,72.36 L300.1,72.33 L300.6,71.79 L301.1,72.11 L301.6,71.97 L302.1,72 L302.6,71.99 L303.1,72 L303.6,71.94 L304.1,71.98 L304.6,72.06 L305.1,71.81 L305.6,71.79 L306.1,71.81 L306.6,71.79 L307.1,72.08 L307.6,71.78 L308.1,71.95 L308.6,71.96 L309.1,72.06 L309.6,71.93 L310.1,72.1 L310.6,71.89 L311.1,71.93 L311.6,72.01 L312.1,71.62 L312.6,71.92 L313.1,72.09 L313.6,71.84 L314.1,71.77 L314.6,72.11 L315.1,71.79 L315.6,71.97 L316.1,71.34 L316.6,71.74 L317.1,71.62 L317.6,71.75 L318.1,71.86 L318.6,71.62 L319.1,71.58 L319.6,71.12 L320.1,71.71 L320.6,71.78 L321.1,71.56 L321.6,71.42 L322.1,71.54 L322.6,71.63 L323.1,71.54 L323.6,71.75 L324.1,71.17 L324.6,70.7 L325.1,70.52 L325.6,70.02 L326.1,68.98 L326.6,68.23 L327.1,67.23 L327.6,66.22 L328.1,65.41 L328.6,64.31 L329.1,63.88 L329.6,62.99 L330.1,61.98 L330.6,60.5 L331.1,59.29 L331.6,57.85 L332.1,56.68 L332.6,55.95 L333.1,55.28 L333.6,53.81 L334.1,53.35 L334.6,53.28 L335.1,53.01 L335.6,53.41 L336.1,53.54 L336.6,53.9 L337.1,54.48 L337.6,54.62 L338.1,54.72 L338.6,55.22 L339.1,55.03 L339.6,54.53 L340.1,53.77 L340.6,53.06 L341.1,51.7 L341.6,50.6 L342.1,49.45 L342.6,47.98 L343.1,46.97 L343.6,45.48 L344.1,44.94 L344.6,44.08 L345.1,43.41 L345.6,42.18 L346.1,41.43 L346.6,40.39 L347.1,39.46 L347.6,38.8 L348.1,38.28 L348.6,38.15 L349.1,37.69 L349.6,37.85 L350.1,38.2 L350.6,38.61 L351.1,38.97 L351.6,39.5 L352.1,39.43 L352.6,39.81 L353.1,40.05 L353.6,40.01 L354.1,39.43 L354.6,38.53 L355.1,37.85 L355.6,36.81 L356.1,36.52 L356.6,35.55 L357.1,35.64 L357.6,36.11 L358.1,37.3 L358.6,38.83 L359.1,41.62 L359.6,44.36 L360.1,47.35 L360.6,50.62 L361.1,53.11 L361.6,55.11 L362.1,56.85 L362.6,58.04 L363.1,58.02 L363.6,57.71 L364.1,57.47 L364.6,57.45 L365.1,57.22 L365.6,57.13 L366.1,56.56 L366.6,56.42 L367.1,56.14 L367.6,55.28 L368.1,55.07 L368.6,55.06 L369.1,54.36 L369.6,54.1 L370.1,53.97 L370.6,53.42 L371.1,53.27 L371.6,52.91 L372.1,53.2 L372.6,53.06 L373.1,53.63 L373.6,54.32 L374.1,56.4 L374.6,58.13 L375.1,59.85 L375.6,62.26 L376.1,63.68 L376.6,66.01 L377.1,67.43 L377.6,69.54 L378.1,69.55 L378.6,70.21 L379.1,70.58 L379.6,71.13 L380.1,71.38 L380.6,71.52 L381.1,71.6 L381.6,72.15 L382.1,71.78 L382.6,72.02 L383.1,72.29 L383.6,71.79 L384.1,71.87 L384.6,72.2 L385.1,72.1 L385.6,71.8 L386.1,72.04 L386.6,72.36 L387.1,72 L387.6,72.18 L388.1,72.07 L388.6,71.94 L389.1,72.33 L389.6,72.23 L390.1,72.27 L390.6,72.04 L391.1,72.09 L391.6,72.11 L392.1,72.15 L392.6,72.02 L393.1,71.99 L393.6,72.3 L394.1,71.89 L394.6,72.01 L395.1,72.02 L395.6,72 L396.1,71.88 L396.6,71.95 L397.1,72.22 L397.5,72.02" fill="none" stroke="#e07d02" stroke-width="1.95" stroke-linejoin="round" stroke-linecap="round"/>
<path d="M302.3,96.76 L302.8,97.17 L303.3,96.66 L303.8,97.06 L304.3,96.94 L304.8,96.64 L305.3,96.8 L305.8,96.8 L306.3,97.08 L306.8,97.01 L307.3,96.79 L307.8,96.63 L308.3,96.53 L308.8,96.78 L309.3,96.56 L309.8,96.75 L310.3,96.73 L310.8,96.81 L311.3,96.9 L311.8,96.73 L312.3,96.77 L312.8,96.64 L313.3,96.83 L313.8,96.77 L314.3,96.87 L314.8,96.81 L315.3,96.42 L315.8,96.27 L316.3,96.6 L316.8,96.65 L317.3,96.3 L317.8,96.64 L318.3,96.36 L318.8,96.29 L319.3,96.32 L319.8,95.88 L320.3,95.61 L320.8,95.51 L321.3,94.98 L321.8,94.72 L322.3,94.21 L322.8,93.21 L323.3,92.93 L323.8,92.55 L324.3,91.44 L324.8,91.17 L325.3,90.34 L325.8,89.38 L326.3,88.86 L326.8,87.68 L327.3,86.16 L327.8,84.85 L328.3,83.89 L328.8,82.62 L329.3,81.29 L329.8,80.47 L330.3,79.56 L330.8,78.96 L331.3,78.89 L331.8,78.78 L332.3,79.21 L332.8,79.4 L333.3,79.68 L333.8,79.86 L334.3,79.98 L334.8,79.64 L335.3,78.82 L335.8,77.61 L336.3,76.69 L336.8,75.15 L337.3,73.78 L337.8,72.62 L338.3,71.57 L338.8,70.47 L339.3,69.52 L339.8,68.66 L340.3,67.51 L340.8,66.24 L341.3,65.42 L341.8,64.31 L342.3,63.63 L342.8,63.05 L343.3,62.57 L343.8,62.23 L344.3,62.6 L344.8,62.88 L345.3,63.31 L345.8,63.68 L346.3,63.97 L346.8,64.22 L347.3,64.78 L347.8,64.75 L348.3,64.32 L348.8,63.63 L349.3,63.17 L349.8,62.03 L350.3,60.95 L350.8,60.16 L351.3,59.17 L351.8,58.64 L352.3,58.15 L352.8,58.1 L353.3,58.82 L353.8,60.47 L354.3,63.1 L354.8,66.15 L355.3,69.01 L355.8,72.3 L356.3,75.23 L356.8,78.14 L357.3,79.86 L357.8,81.05 L358.3,80.84 L358.8,80.98 L359.3,80.5 L359.8,80.19 L360.3,79.96 L360.8,79.33 L361.3,78.78 L361.8,78.47 L362.3,77.73 L362.8,77.37 L363.3,77 L363.8,75.92 L364.3,75.43 L364.8,74.75 L365.3,74.39 L365.8,74.34 L366.3,74.04 L366.8,73.88 L367.3,73.88 L367.8,74.09 L368.3,74.92 L368.8,76.8 L369.3,78.43 L369.8,80.61 L370.3,82.6 L370.8,84.99 L371.3,87.01 L371.8,89.21 L372.3,91.09 L372.8,92.78 L373.3,94.15 L373.8,94.73 L374.3,94.45 L374.8,95.2 L375.3,95.48 L375.8,95.86 L376.3,95.97 L376.8,96.03 L377.3,96.19 L377.8,96.42 L378.3,96.48 L378.8,96.93 L379.3,96.86 L379.8,96.8 L380.3,96.96 L380.8,97.16 L381.3,96.77 L381.8,96.81 L382.3,96.76 L382.8,96.61 L383.3,96.72 L383.8,96.67 L384.3,96.91 L384.8,96.91 L385.3,96.98 L385.8,96.71 L386.3,97.01 L386.8,96.68 L387.3,96.82 L387.8,97.07 L388.3,97.06 L388.8,97.04 L389.3,97.21 L389.8,97.04 L390.3,96.82 L390.8,96.83 L391.3,96.74 L391.8,96.91 L392.3,96.75 L392.8,96.77 L393.3,96.71 L393.8,96.59 L394.3,97.3 L394.8,97.03 L395.3,96.53 L395.8,96.96 L396.3,96.79 L396.8,96.53 L397.3,96.85 L397.8,96.93 L398.3,96.99 L398.8,97.08 L399.3,96.75 L399.8,96.88 L400.3,97.01 L400.8,96.99 L401.3,96.96 L401.8,96.91 L402.3,97.1 L402.8,96.69 L403.3,96.65 L403.8,97.19 L404.3,96.97 L404.8,97.09 L405.3,96.94 L405.8,96.84 L406.3,96.82 L406.8,96.93 L407.3,96.82 L407.8,96.89 L408.3,96.89 L408.6,97.04" fill="none" stroke="#e07d02" stroke-width="1.95" stroke-linejoin="round" stroke-linecap="round"/>
<path d="M297.8,128.24 L298.3,128.37 L298.8,127.98 L299.3,128.09 L299.8,128.26 L300.3,128.15 L300.8,127.67 L301.3,128.13 L301.8,128.06 L302.3,127.96 L302.8,127.96 L303.3,127.89 L303.8,128.19 L304.3,128.08 L304.8,127.98 L305.3,128.11 L305.8,128.05 L306.3,127.72 L306.8,127.65 L307.3,127.62 L307.8,127.88 L308.3,127.71 L308.8,127.87 L309.3,127.71 L309.8,127.54 L310.3,127.31 L310.8,127.42 L311.3,127.78 L311.8,127.23 L312.3,127.15 L312.8,127.18 L313.3,127.37 L313.8,127.07 L314.3,126.81 L314.8,126.81 L315.3,126.81 L315.8,126.76 L316.3,126.82 L316.8,126.98 L317.3,126.69 L317.8,126.47 L318.3,126.19 L318.8,125.63 L319.3,125.2 L319.8,124.48 L320.3,123.45 L320.8,122.28 L321.3,121.41 L321.8,120.32 L322.3,119.48 L322.8,118.58 L323.3,117.71 L323.8,116.74 L324.3,115.98 L324.8,114.86 L325.3,113.93 L325.8,113.24 L326.3,112.34 L326.8,111.65 L327.3,110.64 L327.8,110.37 L328.3,109.58 L328.8,108.84 L329.3,108.4 L329.8,107.58 L330.3,106.89 L330.8,106.09 L331.3,105.3 L331.8,103.8 L332.3,102.89 L332.8,101.6 L333.3,100.7 L333.8,99.3 L334.3,98.28 L334.8,97.42 L335.3,96.15 L335.8,95.59 L336.3,94.92 L336.8,94.79 L337.3,95.02 L337.8,95.25 L338.3,95.87 L338.8,96.37 L339.3,96.99 L339.8,97.7 L340.3,98.07 L340.8,98.29 L341.3,98.21 L341.8,98.25 L342.3,98 L342.8,97.25 L343.3,96.81 L343.8,95.87 L344.3,95.37 L344.8,94.88 L345.3,93.96 L345.8,93.6 L346.3,92.88 L346.8,92.51 L347.3,91.99 L347.8,91.62 L348.3,91.81 L348.8,92.6 L349.3,93.89 L349.8,96.16 L350.3,98.54 L350.8,101.42 L351.3,104.58 L351.8,107.16 L352.3,109.5 L352.8,111.75 L353.3,113.01 L353.8,113.4 L354.3,113.51 L354.8,112.64 L355.3,112.78 L355.8,112.45 L356.3,111.53 L356.8,110.44 L357.3,110.2 L357.8,109.6 L358.3,108.49 L358.8,107.46 L359.3,106.82 L359.8,106.29 L360.3,105.84 L360.8,105.63 L361.3,105.32 L361.8,104.9 L362.3,106.05 L362.8,107.68 L363.3,110.19 L363.8,112.37 L364.3,115.06 L364.8,118.1 L365.3,120.94 L365.8,123.02 L366.3,125.45 L366.8,126.54 L367.3,127.16 L367.8,127.3 L368.3,127.41 L368.8,127.69 L369.3,127.85 L369.8,127.61 L370.3,127.75 L370.8,128.01 L371.3,127.92 L371.8,127.84 L372.3,127.99 L372.8,127.85 L373.3,127.92 L373.8,127.44 L374.3,128.03 L374.8,128.32 L375.3,128.14 L375.8,128.14 L376.3,128.06 L376.8,127.91 L377.3,128.12 L377.8,128.05 L378.3,128.02 L378.8,128.09 L379.3,127.96 L379.8,128.08 L380.3,128.16 L380.8,128.22 L381.3,128.09 L381.8,128.2 L382.3,128.1 L382.8,127.7 L383.3,127.75 L383.8,128.04 L384.3,127.89 L384.8,128.17 L385.3,127.86 L385.8,128.01 L386.3,127.99 L386.8,127.96 L387.3,127.99 L387.8,128.08 L388.3,128.11 L388.8,128 L389.3,128.12 L389.8,128.18 L390.3,128.06 L390.8,127.98 L391.3,127.98 L391.8,128.02 L392.3,128.01 L392.8,128.11 L393.3,128.54 L393.8,128.29 L394.3,128.11 L394.8,128.2 L395.3,128.2 L395.8,128.31 L396.3,128.34" fill="none" stroke="#e07d02" stroke-width="1.95" stroke-linejoin="round" stroke-linecap="round"/>
<path d="M300.1,143.54 L300.6,144.07 L301.1,143.56 L301.6,143.72 L302.1,143.56 L302.6,143.42 L303.1,143.4 L303.6,144.02 L304.1,143.93 L304.6,143.52 L305.1,143.49 L305.6,143.92 L306.1,143.51 L306.6,143.74 L307.1,143.99 L307.6,143.77 L308.1,143.88 L308.6,143.66 L309.1,143.33 L309.6,143.46 L310.1,143.29 L310.6,143.62 L311.1,143.34 L311.6,143.56 L312.1,143.44 L312.6,143.39 L313.1,143.57 L313.6,143.39 L314.1,143.3 L314.6,143.59 L315.1,143.39 L315.6,143.13 L316.1,143.54 L316.6,143.08 L317.1,143.31 L317.6,143.16 L318.1,142.66 L318.6,142.06 L319.1,141.51 L319.6,140.79 L320.1,139.89 L320.6,139.4 L321.1,138.33 L321.6,137.5 L322.1,137.08 L322.6,135.85 L323.1,134.69 L323.6,133.79 L324.1,132.56 L324.6,131.25 L325.1,130.24 L325.6,128.43 L326.1,127.4 L326.6,126.01 L327.1,124.87 L327.6,123.47 L328.1,122.42 L328.6,121.58 L329.1,120.98 L329.6,120.62 L330.1,120.5 L330.6,119.93 L331.1,120.53 L331.6,120.64 L332.1,120.89 L332.6,121.07 L333.1,121.7 L333.6,121.76 L334.1,122.69 L334.6,122.74 L335.1,123.24 L335.6,123.55 L336.1,123.91 L336.6,123.74 L337.1,124.14 L337.6,123.96 L338.1,123.9 L338.6,123.33 L339.1,122.79 L339.6,121.95 L340.1,121.61 L340.6,121.32 L341.1,120.32 L341.6,119.68 L342.1,119.13 L342.6,118.75 L343.1,117.83 L343.6,118.04 L344.1,117.56 L344.6,117.44 L345.1,117.5 L345.6,118.95 L346.1,120.41 L346.6,122.97 L347.1,125.43 L347.6,127.76 L348.1,130.23 L348.6,132.1 L349.1,132.87 L349.6,132.92 L350.1,132.87 L350.6,132.51 L351.1,132.18 L351.6,132.03 L352.1,131.44 L352.6,131.24 L353.1,130.78 L353.6,130.37 L354.1,129.81 L354.6,129.1 L355.1,128.74 L355.6,128.03 L356.1,127.89 L356.6,127.39 L357.1,127.43 L357.6,126.89 L358.1,126.94 L358.6,126.9 L359.1,127.84 L359.6,129.06 L360.1,130.39 L360.6,132.76 L361.1,134.54 L361.6,136.25 L362.1,138.27 L362.6,139.82 L363.1,141.15 L363.6,142.33 L364.1,142.34 L364.6,142.95 L365.1,142.79 L365.6,143.15 L366.1,143.63 L366.6,143.39 L367.1,143.52 L367.6,143.79 L368.1,143.55 L368.6,143.71 L369.1,143.5 L369.6,143.59 L370.1,143.68 L370.6,143.67 L371.1,143.55 L371.6,143.73 L372.1,143.79 L372.6,143.8 L373.1,143.71 L373.6,143.54 L373.9,143.82" fill="none" stroke="#e07d02" stroke-width="1.95" stroke-linejoin="round" stroke-linecap="round"/>
<path d="M297.8,174.85 L298.3,174.54 L298.8,174.31 L299.3,174.66 L299.8,174.86 L300.3,174.83 L300.8,174.48 L301.3,174.89 L301.8,174.5 L302.3,174.79 L302.8,174.55 L303.3,174.76 L303.8,174.67 L304.3,174.52 L304.8,174.65 L305.3,174.4 L305.8,174.41 L306.3,174.39 L306.8,174.27 L307.3,174.53 L307.8,174.5 L308.3,174.3 L308.8,174.09 L309.3,174.29 L309.8,174.21 L310.3,174.21 L310.8,174.05 L311.3,173.96 L311.8,174.07 L312.3,173.4 L312.8,172.97 L313.3,172.09 L313.8,171.6 L314.3,170.79 L314.8,169.98 L315.3,169.27 L315.8,168.22 L316.3,167.52 L316.8,166.29 L317.3,164.97 L317.8,163.26 L318.3,162.06 L318.8,160.46 L319.3,158.54 L319.8,156.98 L320.3,155.24 L320.8,154.07 L321.3,152.71 L321.8,151.96 L322.3,151.14 L322.8,150.86 L323.3,150.55 L323.8,150.53 L324.3,151.04 L324.8,151.29 L325.3,152.1 L325.8,152.3 L326.3,153.01 L326.8,153.37 L327.3,153.75 L327.8,154.04 L328.3,154.7 L328.8,155.23 L329.3,155.43 L329.8,155.67 L330.3,155.73 L330.8,155.39 L331.3,155.48 L331.8,155.01 L332.3,154.76 L332.8,154.55 L333.3,153.5 L333.8,153.27 L334.3,152.83 L334.8,152.42 L335.3,151.74 L335.8,151.12 L336.3,150.97 L336.8,150.59 L337.3,149.95 L337.8,150.12 L338.3,149.88 L338.8,150.56 L339.3,152.39 L339.8,154.44 L340.3,156.54 L340.8,159.54 L341.3,161.12 L341.8,163.07 L342.3,164.13 L342.8,164.55 L343.3,164.04 L343.8,164.21 L344.3,163.51 L344.8,163.41 L345.3,163 L345.8,162.52 L346.3,162.34 L346.8,162.18 L347.3,161.78 L347.8,161.11 L348.3,160.39 L348.8,160.06 L349.3,159.94 L349.8,159.63 L350.3,159.39 L350.8,159.07 L351.3,158.86 L351.8,159.16 L352.3,159.94 L352.8,161.79 L353.3,163.55 L353.8,166.19 L354.3,168.68 L354.8,170.98 L355.3,172.71 L355.8,173.25 L356.3,173.53 L356.8,173.96 L357.3,173.96 L357.8,173.85 L358.3,174.63 L358.8,174.56 L359.3,174.72 L359.8,174.62 L360.3,174.81 L360.8,174.68 L361.3,174.68 L361.8,174.99 L362.3,174.49 L362.8,174.78 L363.3,174.43 L363.8,174.95 L363.9,174.66" fill="none" stroke="#0a7bc3" stroke-width="1.95" stroke-linejoin="round" stroke-linecap="round"/>
<path d="M294.5,195.9 L295,195.79 L295.5,196.06 L296,196.43 L296.5,196.18 L297,195.83 L297.5,195.74 L298,196.56 L298.5,195.98 L299,195.82 L299.5,196.08 L300,196.15 L300.5,196.31 L301,196 L301.5,195.9 L302,196.12 L302.5,195.86 L303,196.04 L303.5,195.99 L304,196.11 L304.5,195.81 L305,195.79 L305.5,195.94 L306,195.95 L306.5,195.59 L307,195.68 L307.5,195.82 L308,195.7 L308.5,196.13 L309,195.83 L309.5,195.89 L310,195.63 L310.5,195.62 L311,195.59 L311.5,195.72 L312,195.44 L312.5,195.62 L313,194.89 L313.5,194.69 L314,193.91 L314.5,193.03 L315,192.48 L315.5,191.42 L316,190.2 L316.5,189.04 L317,188.25 L317.5,186.9 L318,186.09 L318.5,184.64 L319,183.31 L319.5,181.42 L320,179.68 L320.5,178.09 L321,176.23 L321.5,174.11 L322,172.62 L322.5,171.15 L323,170.64 L323.5,170.4 L324,170.12 L324.5,170.36 L325,170.99 L325.5,171.36 L326,172.1 L326.5,172.99 L327,173.48 L327.5,174.17 L328,174.98 L328.5,175.2 L329,175.66 L329.5,175.77 L330,175.64 L330.5,175.74 L331,174.61 L331.5,174 L332,172.73 L332.5,171.56 L333,170.15 L333.5,168.93 L334,167.64 L334.5,166.41 L335,164.57 L335.5,163.76 L336,162.67 L336.5,161.86 L337,161.45 L337.5,161.33 L338,162.19 L338.5,164.61 L339,168.38 L339.5,171.92 L340,175.85 L340.5,178.99 L341,181.78 L341.5,182.41 L342,182.37 L342.5,181.95 L343,181.57 L343.5,180.78 L344,179.94 L344.5,179.04 L345,178.24 L345.5,177.29 L346,176.35 L346.5,175.44 L347,174.42 L347.5,172.98 L348,172.02 L348.5,171.4 L349,170.37 L349.5,170.1 L350,169.62 L350.5,169.01 L351,169.27 L351.5,170.76 L352,173.51 L352.5,177.31 L353,181.75 L353.5,186.24 L354,189.84 L354.5,192.74 L355,193.77 L355.5,194.17 L356,194.56 L356.5,195.2 L357,195.28 L357.5,195.76 L358,195.65 L358.5,196.13 L359,196.33 L359.5,196.49 L360,196.67 L360.5,196.65 L361,196.72 L361.5,196.63 L362,196.55 L362.5,196.58 L363,196.69 L363.5,196.91 L364,197.08 L364.5,197.01 L365,197.02 L365.5,197.15 L366,197 L366.5,197.12 L367,197.1 L367.5,197.18 L368,197.13 L368.5,196.97 L369,197.15 L369.5,197.09 L370,197.54 L370.5,197.5 L371,197.17 L371.5,197.14 L372,197.29 L372.5,197.05 L373,197.51 L373.5,197.3 L374,197.23" fill="none" stroke="#0a7bc3" stroke-width="1.95" stroke-linejoin="round" stroke-linecap="round"/>
<path d="M291.1,222.28 L291.6,222.32 L292.1,222.13 L292.6,222.27 L293.1,221.81 L293.6,221.96 L294.1,221.94 L294.6,221.8 L295.1,222.2 L295.6,222.45 L296.1,221.81 L296.6,221.92 L297.1,222.17 L297.6,221.92 L298.1,221.95 L298.6,221.79 L299.1,221.95 L299.6,221.7 L300.1,221.96 L300.6,221.88 L301.1,221.82 L301.6,221.59 L302.1,221.64 L302.6,221.71 L303.1,221.43 L303.6,221.36 L304.1,221.09 L304.6,221.32 L305.1,221.33 L305.6,221.45 L306.1,221.02 L306.6,220.91 L307.1,221.28 L307.6,221.18 L308.1,220.72 L308.6,220.74 L309.1,220.43 L309.6,220.63 L310.1,220.77 L310.6,220.58 L311.1,220.16 L311.6,220.19 L312.1,219.43 L312.6,218.66 L313.1,217.3 L313.6,216.12 L314.1,214.76 L314.6,213.15 L315.1,211.79 L315.6,210.22 L316.1,208.42 L316.6,206.13 L317.1,204.01 L317.6,201.87 L318.1,200.1 L318.6,198.13 L319.1,196.75 L319.6,195.6 L320.1,194.99 L320.6,195.24 L321.1,195.68 L321.6,196 L322.1,196.46 L322.6,196.96 L323.1,197.45 L323.6,197.57 L324.1,197.38 L324.6,196.89 L325.1,196.43 L325.6,196.49 L326.1,195.09 L326.6,194.37 L327.1,193.42 L327.6,192.22 L328.1,191.79 L328.6,190.74 L329.1,189.83 L329.6,189.47 L330.1,188.77 L330.6,188.63 L331.1,188.3 L331.6,189.31 L332.1,191.21 L332.6,193.47 L333.1,196.22 L333.6,199.39 L334.1,202.64 L334.6,204.92 L335.1,207.03 L335.6,208.61 L336.1,208.7 L336.6,208.47 L337.1,208.01 L337.6,207.58 L338.1,206.96 L338.6,206.09 L339.1,204.85 L339.6,204.33 L340.1,203.01 L340.6,202.66 L341.1,201.44 L341.6,200.83 L342.1,200.11 L342.6,199.42 L343.1,199.36 L343.6,199.04 L344.1,199.91 L344.6,201.67 L345.1,204.67 L345.6,208.69 L346.1,212.32 L346.6,215.63 L347.1,218.3 L347.6,220.4 L348.1,220.64 L348.6,220.84 L349.1,220.75 L349.6,220.85 L350.1,220.92 L350.6,221.36 L351.1,221.21 L351.6,221.4 L352.1,220.95 L352.6,221.5 L353.1,221.23 L353.6,220.9 L354.1,221.16 L354.6,221.45 L355.1,221.65 L355.6,220.93 L356.1,221.17 L356.6,221.42 L356.7,221.14" fill="none" stroke="#0a7bc3" stroke-width="1.95" stroke-linejoin="round" stroke-linecap="round"/>
<line x1="455" y1="148" x2="461" y2="148" stroke="#000" stroke-width="1.9" />
<line x1="470.7" y1="152.2" x2="479" y2="152.2" stroke="#000" stroke-width="1.9" />
<line x1="473.5" y1="151.7" x2="480" y2="151.7" stroke="#000" stroke-width="1.9" />
<line x1="462" y1="155.4" x2="467.8" y2="155.4" stroke="#000" stroke-width="1.9" />
<path d="M424.3,3.2 L426.3,97.5 L427.8,128.2 L434.3,144.3 L458,148 L474.5,152.2 L476.7,151.7 L464.8,155.4 L447,159.2 L434.3,166.7 L431.3,174.4 L427.5,190 L425.4,222.7" fill="none" stroke="#000" stroke-width="1.9" stroke-linejoin="round"/>
<circle cx="424.3" cy="3.2" r="2.0" fill="#fff" stroke="#000" stroke-width="1.7"/>
<circle cx="426.3" cy="97.5" r="2.0" fill="#fff" stroke="#000" stroke-width="1.7"/>
<circle cx="427.8" cy="128.2" r="2.0" fill="#fff" stroke="#000" stroke-width="1.7"/>
<circle cx="434.3" cy="144.3" r="2.0" fill="#fff" stroke="#000" stroke-width="1.7"/>
<circle cx="458" cy="148" r="2.0" fill="#fff" stroke="#000" stroke-width="1.7"/>
<circle cx="474.5" cy="152.2" r="2.0" fill="#fff" stroke="#000" stroke-width="1.7"/>
<circle cx="476.7" cy="151.7" r="2.0" fill="#fff" stroke="#000" stroke-width="1.7"/>
<circle cx="464.8" cy="155.4" r="2.0" fill="#fff" stroke="#000" stroke-width="1.7"/>
<circle cx="447" cy="159.2" r="2.0" fill="#fff" stroke="#000" stroke-width="1.7"/>
<circle cx="434.3" cy="166.7" r="2.0" fill="#fff" stroke="#000" stroke-width="1.7"/>
<circle cx="431.3" cy="174.4" r="2.0" fill="#fff" stroke="#000" stroke-width="1.7"/>
<circle cx="427.5" cy="190" r="2.0" fill="#fff" stroke="#000" stroke-width="1.7"/>
<circle cx="425.4" cy="222.7" r="2.0" fill="#fff" stroke="#000" stroke-width="1.7"/>
<line x1="292" y1="152.5" x2="488" y2="152.5" stroke="#262626" stroke-width="1.0" stroke-dasharray="1 1"/>
<rect x="290.8" y="2.3" width="117.9" height="234.1" fill="none" stroke="#303030" stroke-width="0.8"/>
<rect x="422.6" y="2.3" width="65" height="234.1" fill="none" stroke="#303030" stroke-width="0.8"/>
<line x1="305.8" y1="236.4" x2="305.8" y2="234.4" stroke="#303030" stroke-width="0.8" />
<line x1="305.8" y1="2.3" x2="305.8" y2="4.3" stroke="#303030" stroke-width="0.8" />
<line x1="339.04" y1="236.4" x2="339.04" y2="234.4" stroke="#303030" stroke-width="0.8" />
<line x1="339.04" y1="2.3" x2="339.04" y2="4.3" stroke="#303030" stroke-width="0.8" />
<line x1="372.27" y1="236.4" x2="372.27" y2="234.4" stroke="#303030" stroke-width="0.8" />
<line x1="372.27" y1="2.3" x2="372.27" y2="4.3" stroke="#303030" stroke-width="0.8" />
<line x1="405.5" y1="236.4" x2="405.5" y2="234.4" stroke="#303030" stroke-width="0.8" />
<line x1="405.5" y1="2.3" x2="405.5" y2="4.3" stroke="#303030" stroke-width="0.8" />
<line x1="290.8" y1="19.54" x2="292.8" y2="19.54" stroke="#303030" stroke-width="0.8" />
<line x1="408.7" y1="19.54" x2="406.7" y2="19.54" stroke="#303030" stroke-width="0.8" />
<line x1="290.8" y1="50.52" x2="292.8" y2="50.52" stroke="#303030" stroke-width="0.8" />
<line x1="408.7" y1="50.52" x2="406.7" y2="50.52" stroke="#303030" stroke-width="0.8" />
<line x1="290.8" y1="81.5" x2="292.8" y2="81.5" stroke="#303030" stroke-width="0.8" />
<line x1="408.7" y1="81.5" x2="406.7" y2="81.5" stroke="#303030" stroke-width="0.8" />
<line x1="290.8" y1="112.48" x2="292.8" y2="112.48" stroke="#303030" stroke-width="0.8" />
<line x1="408.7" y1="112.48" x2="406.7" y2="112.48" stroke="#303030" stroke-width="0.8" />
<line x1="290.8" y1="143.46" x2="292.8" y2="143.46" stroke="#303030" stroke-width="0.8" />
<line x1="408.7" y1="143.46" x2="406.7" y2="143.46" stroke="#303030" stroke-width="0.8" />
<line x1="290.8" y1="174.44" x2="292.8" y2="174.44" stroke="#303030" stroke-width="0.8" />
<line x1="408.7" y1="174.44" x2="406.7" y2="174.44" stroke="#303030" stroke-width="0.8" />
<line x1="290.8" y1="205.42" x2="292.8" y2="205.42" stroke="#303030" stroke-width="0.8" />
<line x1="408.7" y1="205.42" x2="406.7" y2="205.42" stroke="#303030" stroke-width="0.8" />
<line x1="290.8" y1="236.4" x2="292.8" y2="236.4" stroke="#303030" stroke-width="0.8" />
<line x1="408.7" y1="236.4" x2="406.7" y2="236.4" stroke="#303030" stroke-width="0.8" />
<line x1="423.2" y1="236.4" x2="423.2" y2="234.4" stroke="#303030" stroke-width="0.8" />
<line x1="423.2" y1="2.3" x2="423.2" y2="4.3" stroke="#303030" stroke-width="0.8" />
<line x1="439.25" y1="236.4" x2="439.25" y2="234.4" stroke="#303030" stroke-width="0.8" />
<line x1="439.25" y1="2.3" x2="439.25" y2="4.3" stroke="#303030" stroke-width="0.8" />
<line x1="455.3" y1="236.4" x2="455.3" y2="234.4" stroke="#303030" stroke-width="0.8" />
<line x1="455.3" y1="2.3" x2="455.3" y2="4.3" stroke="#303030" stroke-width="0.8" />
<line x1="471.35" y1="236.4" x2="471.35" y2="234.4" stroke="#303030" stroke-width="0.8" />
<line x1="471.35" y1="2.3" x2="471.35" y2="4.3" stroke="#303030" stroke-width="0.8" />
<line x1="487.4" y1="236.4" x2="487.4" y2="234.4" stroke="#303030" stroke-width="0.8" />
<line x1="487.4" y1="2.3" x2="487.4" y2="4.3" stroke="#303030" stroke-width="0.8" />
<line x1="422.6" y1="19.54" x2="424.6" y2="19.54" stroke="#303030" stroke-width="0.8" />
<line x1="487.6" y1="19.54" x2="485.6" y2="19.54" stroke="#303030" stroke-width="0.8" />
<line x1="422.6" y1="50.52" x2="424.6" y2="50.52" stroke="#303030" stroke-width="0.8" />
<line x1="487.6" y1="50.52" x2="485.6" y2="50.52" stroke="#303030" stroke-width="0.8" />
<line x1="422.6" y1="81.5" x2="424.6" y2="81.5" stroke="#303030" stroke-width="0.8" />
<line x1="487.6" y1="81.5" x2="485.6" y2="81.5" stroke="#303030" stroke-width="0.8" />
<line x1="422.6" y1="112.48" x2="424.6" y2="112.48" stroke="#303030" stroke-width="0.8" />
<line x1="487.6" y1="112.48" x2="485.6" y2="112.48" stroke="#303030" stroke-width="0.8" />
<line x1="422.6" y1="143.46" x2="424.6" y2="143.46" stroke="#303030" stroke-width="0.8" />
<line x1="487.6" y1="143.46" x2="485.6" y2="143.46" stroke="#303030" stroke-width="0.8" />
<line x1="422.6" y1="174.44" x2="424.6" y2="174.44" stroke="#303030" stroke-width="0.8" />
<line x1="487.6" y1="174.44" x2="485.6" y2="174.44" stroke="#303030" stroke-width="0.8" />
<line x1="422.6" y1="205.42" x2="424.6" y2="205.42" stroke="#303030" stroke-width="0.8" />
<line x1="487.6" y1="205.42" x2="485.6" y2="205.42" stroke="#303030" stroke-width="0.8" />
<line x1="422.6" y1="236.4" x2="424.6" y2="236.4" stroke="#303030" stroke-width="0.8" />
<line x1="487.6" y1="236.4" x2="485.6" y2="236.4" stroke="#303030" stroke-width="0.8" />
<text x="287.6" y="23.29" font-family='"Liberation Sans", sans-serif' font-size="10.2" text-anchor="end" fill="#111" >44</text>
<text x="491.2" y="23.29" font-family='"Liberation Sans", sans-serif' font-size="10.2" text-anchor="start" fill="#111" >44</text>
<text x="287.6" y="54.27" font-family='"Liberation Sans", sans-serif' font-size="10.2" text-anchor="end" fill="#111" >42</text>
<text x="491.2" y="54.27" font-family='"Liberation Sans", sans-serif' font-size="10.2" text-anchor="start" fill="#111" >42</text>
<text x="287.6" y="85.25" font-family='"Liberation Sans", sans-serif' font-size="10.2" text-anchor="end" fill="#111" >40</text>
<text x="491.2" y="85.25" font-family='"Liberation Sans", sans-serif' font-size="10.2" text-anchor="start" fill="#111" >40</text>
<text x="287.6" y="116.23" font-family='"Liberation Sans", sans-serif' font-size="10.2" text-anchor="end" fill="#111" >38</text>
<text x="491.2" y="116.23" font-family='"Liberation Sans", sans-serif' font-size="10.2" text-anchor="start" fill="#111" >38</text>
<text x="287.6" y="147.21" font-family='"Liberation Sans", sans-serif' font-size="10.2" text-anchor="end" fill="#111" >36</text>
<text x="491.2" y="147.21" font-family='"Liberation Sans", sans-serif' font-size="10.2" text-anchor="start" fill="#111" >36</text>
<text x="287.6" y="178.19" font-family='"Liberation Sans", sans-serif' font-size="10.2" text-anchor="end" fill="#111" >34</text>
<text x="491.2" y="178.19" font-family='"Liberation Sans", sans-serif' font-size="10.2" text-anchor="start" fill="#111" >34</text>
<text x="287.6" y="209.17" font-family='"Liberation Sans", sans-serif' font-size="10.2" text-anchor="end" fill="#111" >32</text>
<text x="491.2" y="209.17" font-family='"Liberation Sans", sans-serif' font-size="10.2" text-anchor="start" fill="#111" >32</text>
<text x="287.6" y="240.15" font-family='"Liberation Sans", sans-serif' font-size="10.2" text-anchor="end" fill="#111" >30</text>
<text x="491.2" y="240.15" font-family='"Liberation Sans", sans-serif' font-size="10.2" text-anchor="start" fill="#111" >30</text>
<text x="305.8" y="248.8" font-family='"Liberation Sans", sans-serif' font-size="10.2" text-anchor="middle" fill="#111" >0</text>
<text x="339.04" y="248.8" font-family='"Liberation Sans", sans-serif' font-size="10.2" text-anchor="middle" fill="#111" >0.5</text>
<text x="372.27" y="248.8" font-family='"Liberation Sans", sans-serif' font-size="10.2" text-anchor="middle" fill="#111" >1</text>
<text x="405.5" y="248.8" font-family='"Liberation Sans", sans-serif' font-size="10.2" text-anchor="middle" fill="#111" >1.5</text>
<text x="423.2" y="248.8" font-family='"Liberation Sans", sans-serif' font-size="10.2" text-anchor="middle" fill="#111" >0</text>
<text x="439.25" y="248.8" font-family='"Liberation Sans", sans-serif' font-size="10.2" text-anchor="middle" fill="#111" >5</text>
<text x="455.3" y="248.8" font-family='"Liberation Sans", sans-serif' font-size="10.2" text-anchor="middle" fill="#111" >10</text>
<text x="471.35" y="248.8" font-family='"Liberation Sans", sans-serif' font-size="10.2" text-anchor="middle" fill="#111" >15</text>
<text x="487.4" y="248.8" font-family='"Liberation Sans", sans-serif' font-size="10.2" text-anchor="middle" fill="#111" >20</text>
<text x="256.6" y="24.3" font-family='"Liberation Serif", serif' font-size="16.5" text-anchor="start" fill="#000" textLength="17" lengthAdjust="spacingAndGlyphs" stroke="#fff" stroke-width="0.3">(b)</text>
<text x="295" y="14.5" font-family='"Liberation Sans", sans-serif' font-size="10.45" text-anchor="start" fill="#111" >T = 1.7(2) K</text>
<text x="429.8" y="14.6" font-family='"Liberation Sans", sans-serif' font-size="10.55" text-anchor="start" fill="#111" >T = 1.8(3) K</text>
<text x="434.9" y="261.7" font-family='"Liberation Sans", sans-serif' font-size="11.8" text-anchor="start" fill="#111" >T</text>
<text x="441.5" y="257.6" font-family='"Liberation Sans", sans-serif' font-size="7.4" text-anchor="start" fill="#111" >-1</text>
<text x="442.1" y="267.8" font-family='"Liberation Sans", sans-serif' font-size="7.4" text-anchor="start" fill="#111" >1</text>
<text x="452.3" y="261.7" font-family='"Liberation Sans", sans-serif' font-size="11.8" text-anchor="start" fill="#111" >(s</text>
<text x="461.5" y="258.2" font-family='"Liberation Sans", sans-serif' font-size="7.4" text-anchor="start" fill="#111" >-1</text>
<text x="469.6" y="261.7" font-family='"Liberation Sans", sans-serif' font-size="11.8" text-anchor="start" fill="#111" >)</text>
<text x="349.6" y="262.2" font-family='"Liberation Sans", sans-serif' font-size="11.8" text-anchor="middle" fill="#111" >Shift (MHz)</text>
<text transform="translate(268.3,119.7) rotate(-90)" font-family='"Liberation Sans", sans-serif' font-size="11.8" text-anchor="middle" fill="#111"><tspan font-style="italic">μ</tspan><tspan font-size="8.50" dy="4.25">0</tspan><tspan dy="-4.25">H (T)</tspan></text>
<text transform="translate(514.9,119.3) rotate(-90)" font-family='"Liberation Sans", sans-serif' font-size="11.8" text-anchor="middle" fill="#111"><tspan font-style="italic">μ</tspan><tspan font-size="8.50" dy="4.25">0</tspan><tspan dy="-4.25">H (T)</tspan></text>
<path d="M559.7,168.2 L559.4,166.81 L559.8,166.69 L560.2,166.91 L560.6,166.6 L561,166.82 L561.4,166.72 L561.8,166.91 L562.2,166.87 L562.6,167.08 L563,166.92 L563.4,167.22 L563.8,166.54 L564.2,166.81 L564.6,167.01 L565,166.87 L565.4,166.31 L565.8,166.9 L566.2,166.73 L566.6,167.31 L567,166.79 L567.4,166.94 L567.8,166.6 L568.2,166.92 L568.6,166.22 L569,166.56 L569.4,166.68 L569.8,166.42 L570.2,166.93 L570.6,166.73 L571,167.05 L571.4,166.42 L571.8,166.53 L572.2,166.81 L572.6,166.57 L573,166.83 L573.4,166.78 L573.8,166.49 L574.2,166.65 L574.6,166.72 L575,166.65 L575.4,166.55 L575.8,166.48 L576.2,166.52 L576.6,166.75 L577,166.96 L577.4,166.25 L577.8,166.32 L578.2,166.47 L578.6,166.78 L579,166.3 L579.4,166.93 L579.8,166.9 L580.2,165.94 L580.6,166.54 L581,166.5 L581.4,166.26 L581.8,165.95 L582.2,166.34 L582.6,166.17 L583,166.45 L583.4,166.29 L583.8,165.94 L584.2,166.46 L584.6,166.24 L585,165.84 L585.4,165.1 L585.8,164.73 L586.2,163.94 L586.6,163.11 L587,162.1 L587.4,161.76 L587.8,160.51 L588.2,160.24 L588.6,158.85 L589,158.05 L589.4,156.71 L589.8,155.19 L590.2,153.78 L590.6,152.4 L591,151.31 L591.4,149.45 L591.8,147.46 L592.2,145.7 L592.6,143.25 L593,141.15 L593.4,139.36 L593.8,138 L594.2,136.19 L594.6,134.71 L595,133.09 L595.4,131.35 L595.8,130.07 L596.2,128.39 L596.6,126.56 L597,125.11 L597.4,124.02 L597.8,122.72 L598.2,121.95 L598.6,121.37 L599,120.74 L599.4,120.55 L599.8,120.48 L600.2,120.73 L600.6,121.2 L601,122.32 L601.4,122.63 L601.8,123.57 L602.2,124.32 L602.6,125.06 L603,125.43 L603.4,125.64 L603.8,126.88 L604.2,126.74 L604.6,127.56 L605,127.67 L605.4,128.43 L605.8,128.4 L606.2,129.2 L606.6,129.08 L607,128.63 L607.4,128.98 L607.8,127.66 L608.2,127.14 L608.6,126.4 L609,124.9 L609.4,123.92 L609.8,122.27 L610.2,120.71 L610.6,119.65 L611,118.01 L611.4,116.35 L611.8,114.8 L612.2,112.52 L612.6,110.18 L613,108.23 L613.4,106.94 L613.8,105.19 L614.2,103.02 L614.6,102.3 L615,101.31 L615.4,100 L615.8,99.23 L616.2,97.9 L616.6,97.03 L617,96.21 L617.4,94.72 L617.8,93.28 L618.2,91.78 L618.6,90.08 L619,88.77 L619.4,87.67 L619.8,86.81 L620.2,86.01 L620.6,86 L621,84.71 L621.4,84.39 L621.8,84.13 L622.2,84.15 L622.6,83.69 L623,84.06 L623.4,83.85 L623.8,83.89 L624.2,84.18 L624.6,84.3 L625,84.37 L625.4,83.94 L625.8,84.4 L626.2,84.24 L626.6,83.44 L627,82.45 L627.4,81.14 L627.8,79.83 L628.2,78.88 L628.6,78.13 L629,76.84 L629.4,76.02 L629.8,75.21 L630.2,73.86 L630.6,73.74 L631,72.92 L631.4,72.84 L631.8,72.67 L632.2,74.13 L632.6,76.89 L633,80.04 L633.4,82.71 L633.8,86.01 L634.2,89.18 L634.6,92.42 L635,96.27 L635.4,99.54 L635.8,102.65 L636.2,105.21 L636.6,107.67 L637,109.99 L637.4,112.57 L637.8,114.71 L638.2,116.78 L638.6,118.32 L639,120.1 L639.4,121.64 L639.8,122.7 L640.2,124.4 L640.6,126.1 L641,126.62 L641.4,127.45 L641.8,127.94 L642.2,127.87 L642.6,127.93 L643,127.33 L643.4,126.77 L643.8,125.96 L644.2,125.48 L644.6,124.56 L645,123.7 L645.4,122.95 L645.8,122.64 L646.2,121.69 L646.6,121.09 L647,120.61 L647.4,119.59 L647.8,119.09 L648.2,118 L648.6,117.7 L649,116.56 L649.4,116.54 L649.8,116.05 L650.2,115.74 L650.6,115.87 L651,115.6 L651.4,115.47 L651.8,115.52 L652.2,115.34 L652.6,115.63 L653,116.01 L653.4,117.12 L653.8,117.81 L654.2,118.5 L654.6,119.61 L655,120.85 L655.4,122.61 L655.8,125.68 L656.2,128.75 L656.6,132.53 L657,135.88 L657.4,139.42 L657.8,142.94 L658.2,144.8 L658.6,147.39 L659,149.57 L659.4,152.11 L659.8,154.86 L660.2,156.03 L660.6,157.98 L661,159.33 L661.4,159.86 L661.8,160.75 L662.2,161.77 L662.6,162.56 L663,162.74 L663.4,163.45 L663.8,164.42 L664.2,164.33 L664.6,164.97 L665,165.48 L665.4,165.57 L665.8,165.94 L666.2,166.16 L666.6,166.4 L667,166.62 L667.4,166.56 L667.8,166.88 L668.2,166.96 L668.6,167.16 L669,166.94 L669.4,166.91 L669.8,167.44 L670.2,167.06 L670.6,167.03 L671,166.98 L671.4,167.09 L671.8,166.93 L672.2,167.01 L672.6,166.94 L673,166.88 L673.4,167.04 L673.8,166.86 L674.2,167.5 L674.6,166.92 L675,167.51 L675.4,167.23 L675.8,167.35 L676.2,167.47 L676.6,166.84 L677,167.51 L677.4,167.28 L677.8,167.09 L678.2,167.04 L678.6,167.26 L679,166.87 L679.4,167.56 L679.8,167.17 L680.2,167.36 L680.6,167.23 L681,167.12 L681.4,167.13 L681.8,167.03 L681.7,168.2Z" fill="#fed2c1" stroke="none"/>
<path d="M559.4,166.81 L559.8,166.69 L560.2,166.91 L560.6,166.6 L561,166.82 L561.4,166.72 L561.8,166.91 L562.2,166.87 L562.6,167.08 L563,166.92 L563.4,167.22 L563.8,166.54 L564.2,166.81 L564.6,167.01 L565,166.87 L565.4,166.31 L565.8,166.9 L566.2,166.73 L566.6,167.31 L567,166.79 L567.4,166.94 L567.8,166.6 L568.2,166.92 L568.6,166.22 L569,166.56 L569.4,166.68 L569.8,166.42 L570.2,166.93 L570.6,166.73 L571,167.05 L571.4,166.42 L571.8,166.53 L572.2,166.81 L572.6,166.57 L573,166.83 L573.4,166.78 L573.8,166.49 L574.2,166.65 L574.6,166.72 L575,166.65 L575.4,166.55 L575.8,166.48 L576.2,166.52 L576.6,166.75 L577,166.96 L577.4,166.25 L577.8,166.32 L578.2,166.47 L578.6,166.78 L579,166.3 L579.4,166.93 L579.8,166.9 L580.2,165.94 L580.6,166.54 L581,166.5 L581.4,166.26 L581.8,165.95 L582.2,166.34 L582.6,166.17 L583,166.45 L583.4,166.29 L583.8,165.94 L584.2,166.46 L584.6,166.24 L585,165.84 L585.4,165.1 L585.8,164.73 L586.2,163.94 L586.6,163.11 L587,162.1 L587.4,161.76 L587.8,160.51 L588.2,160.24 L588.6,158.85 L589,158.05 L589.4,156.71 L589.8,155.19 L590.2,153.78 L590.6,152.4 L591,151.31 L591.4,149.45 L591.8,147.46 L592.2,145.7 L592.6,143.25 L593,141.15 L593.4,139.36 L593.8,138 L594.2,136.19 L594.6,134.71 L595,133.09 L595.4,131.35 L595.8,130.07 L596.2,128.39 L596.6,126.56 L597,125.11 L597.4,124.02 L597.8,122.72 L598.2,121.95 L598.6,121.37 L599,120.74 L599.4,120.55 L599.8,120.48 L600.2,120.73 L600.6,121.2 L601,122.32 L601.4,122.63 L601.8,123.57 L602.2,124.32 L602.6,125.06 L603,125.43 L603.4,125.64 L603.8,126.88 L604.2,126.74 L604.6,127.56 L605,127.67 L605.4,128.43 L605.8,128.4 L606.2,129.2 L606.6,129.08 L607,128.63 L607.4,128.98 L607.8,127.66 L608.2,127.14 L608.6,126.4 L609,124.9 L609.4,123.92 L609.8,122.27 L610.2,120.71 L610.6,119.65 L611,118.01 L611.4,116.35 L611.8,114.8 L612.2,112.52 L612.6,110.18 L613,108.23 L613.4,106.94 L613.8,105.19 L614.2,103.02 L614.6,102.3 L615,101.31 L615.4,100 L615.8,99.23 L616.2,97.9 L616.6,97.03 L617,96.21 L617.4,94.72 L617.8,93.28 L618.2,91.78 L618.6,90.08 L619,88.77 L619.4,87.67 L619.8,86.81 L620.2,86.01 L620.6,86 L621,84.71 L621.4,84.39 L621.8,84.13 L622.2,84.15 L622.6,83.69 L623,84.06 L623.4,83.85 L623.8,83.89 L624.2,84.18 L624.6,84.3 L625,84.37 L625.4,83.94 L625.8,84.4 L626.2,84.24 L626.6,83.44 L627,82.45 L627.4,81.14 L627.8,79.83 L628.2,78.88 L628.6,78.13 L629,76.84 L629.4,76.02 L629.8,75.21 L630.2,73.86 L630.6,73.74 L631,72.92 L631.4,72.84 L631.8,72.67 L632.2,74.13 L632.6,76.89 L633,80.04 L633.4,82.71 L633.8,86.01 L634.2,89.18 L634.6,92.42 L635,96.27 L635.4,99.54 L635.8,102.65 L636.2,105.21 L636.6,107.67 L637,109.99 L637.4,112.57 L637.8,114.71 L638.2,116.78 L638.6,118.32 L639,120.1 L639.4,121.64 L639.8,122.7 L640.2,124.4 L640.6,126.1 L641,126.62 L641.4,127.45 L641.8,127.94 L642.2,127.87 L642.6,127.93 L643,127.33 L643.4,126.77 L643.8,125.96 L644.2,125.48 L644.6,124.56 L645,123.7 L645.4,122.95 L645.8,122.64 L646.2,121.69 L646.6,121.09 L647,120.61 L647.4,119.59 L647.8,119.09 L648.2,118 L648.6,117.7 L649,116.56 L649.4,116.54 L649.8,116.05 L650.2,115.74 L650.6,115.87 L651,115.6 L651.4,115.47 L651.8,115.52 L652.2,115.34 L652.6,115.63 L653,116.01 L653.4,117.12 L653.8,117.81 L654.2,118.5 L654.6,119.61 L655,120.85 L655.4,122.61 L655.8,125.68 L656.2,128.75 L656.6,132.53 L657,135.88 L657.4,139.42 L657.8,142.94 L658.2,144.8 L658.6,147.39 L659,149.57 L659.4,152.11 L659.8,154.86 L660.2,156.03 L660.6,157.98 L661,159.33 L661.4,159.86 L661.8,160.75 L662.2,161.77 L662.6,162.56 L663,162.74 L663.4,163.45 L663.8,164.42 L664.2,164.33 L664.6,164.97 L665,165.48 L665.4,165.57 L665.8,165.94 L666.2,166.16 L666.6,166.4 L667,166.62 L667.4,166.56 L667.8,166.88 L668.2,166.96 L668.6,167.16 L669,166.94 L669.4,166.91 L669.8,167.44 L670.2,167.06 L670.6,167.03 L671,166.98 L671.4,167.09 L671.8,166.93 L672.2,167.01 L672.6,166.94 L673,166.88 L673.4,167.04 L673.8,166.86 L674.2,167.5 L674.6,166.92 L675,167.51 L675.4,167.23 L675.8,167.35 L676.2,167.47 L676.6,166.84 L677,167.51 L677.4,167.28 L677.8,167.09 L678.2,167.04 L678.6,167.26 L679,166.87 L679.4,167.56 L679.8,167.17 L680.2,167.36 L680.6,167.23 L681,167.12 L681.4,167.13 L681.8,167.03" fill="none" stroke="#d95319" stroke-width="1.7" stroke-linejoin="round"/>
<path d="M559.4,167.3 L559.8,167.3 L560.2,167.3 L560.6,167.3 L561,167.3 L561.4,167.3 L561.8,167.3 L562.2,167.3 L562.6,167.3 L563,167.3 L563.4,167.3 L563.8,167.3 L564.2,167.3 L564.6,167.3 L565,167.3 L565.4,167.3 L565.8,167.3 L566.2,167.3 L566.6,167.29 L567,167.29 L567.4,167.29 L567.8,167.29 L568.2,167.29 L568.6,167.29 L569,167.29 L569.4,167.29 L569.8,167.29 L570.2,167.29 L570.6,167.28 L571,167.28 L571.4,167.28 L571.8,167.28 L572.2,167.28 L572.6,167.28 L573,167.28 L573.4,167.27 L573.8,167.27 L574.2,167.27 L574.6,167.27 L575,167.27 L575.4,167.26 L575.8,167.26 L576.2,167.26 L576.6,167.26 L577,167.25 L577.4,167.25 L577.8,167.25 L578.2,167.24 L578.6,167.24 L579,167.24 L579.4,167.23 L579.8,167.23 L580.2,167.23 L580.6,167.22 L581,167.22 L581.4,167.22 L581.8,167.21 L582.2,167.21 L582.6,167.2 L583,167.2 L583.4,167.16 L583.8,167.05 L584.2,166.88 L584.6,166.66 L585,166.39 L585.4,166.07 L585.8,165.71 L586.2,165.32 L586.6,164.91 L587,164.39 L587.4,163.62 L587.8,162.62 L588.2,161.43 L588.6,160.11 L589,158.69 L589.4,157.22 L589.8,155.73 L590.2,154.24 L590.6,152.55 L591,150.68 L591.4,148.69 L591.8,146.65 L592.2,144.6 L592.6,142.62 L593,140.77 L593.4,139.1 L593.8,137.5 L594.2,135.83 L594.6,134.11 L595,132.38 L595.4,130.64 L595.8,128.93 L596.2,127.28 L596.6,125.7 L597,124.22 L597.4,122.87 L597.8,121.67 L598.2,120.65 L598.6,119.82 L599,119.23 L599.4,118.88 L599.8,118.81 L600.2,118.97 L600.6,119.33 L601,119.86 L601.4,120.53 L601.8,121.33 L602.2,122.22 L602.6,123.17 L603,124.17 L603.4,125.18 L603.8,126.18 L604.2,127.15 L604.6,128.06 L605,128.88 L605.4,129.58 L605.8,130.15 L606.2,130.56 L606.6,130.77 L607,130.76 L607.4,130.49 L607.8,129.96 L608.2,129.23 L608.6,128.32 L609,127.26 L609.4,126.09 L609.8,124.85 L610.2,123.57 L610.6,122.27 L611,121 L611.4,119.66 L611.8,118.15 L612.2,116.48 L612.6,114.69 L613,112.78 L613.4,110.79 L613.8,108.74 L614.2,106.65 L614.6,104.53 L615,102.3 L615.4,99.77 L615.8,97.09 L616.2,94.46 L616.6,92.03 L617,90 L617.4,88.16 L617.8,86.27 L618.2,84.45 L618.6,82.8 L619,81.43 L619.4,80.47 L619.8,80.02 L620.2,80.03 L620.6,80.15 L621,80.35 L621.4,80.6 L621.8,80.91 L622.2,81.24 L622.6,81.59 L623,81.93 L623.4,82.25 L623.8,82.53 L624.2,82.76 L624.6,82.92 L625,83 L625.4,82.97 L625.8,82.86 L626.2,82.67 L626.6,82.42 L627,82.12 L627.4,81.8 L627.8,81.46 L628.2,81.12 L628.6,80.8 L629,80.52 L629.4,80.28 L629.8,80.11 L630.2,80.01 L630.6,80.08 L631,80.64 L631.4,81.65 L631.8,83.01 L632.2,84.6 L632.6,86.3 L633,88 L633.4,89.96 L633.8,92.41 L634.2,95.15 L634.6,98.02 L635,100.83 L635.4,103.41 L635.8,105.73 L636.2,108.05 L636.6,110.36 L637,112.62 L637.4,114.79 L637.8,116.85 L638.2,118.76 L638.6,120.49 L639,122 L639.4,123.44 L639.8,124.9 L640.2,126.32 L640.6,127.61 L641,128.7 L641.4,129.5 L641.8,129.94 L642.2,129.97 L642.6,129.77 L643,129.41 L643.4,128.9 L643.8,128.29 L644.2,127.61 L644.6,126.89 L645,126.16 L645.4,125.45 L645.8,124.8 L646.2,124.2 L646.6,123.55 L647,122.83 L647.4,122.07 L647.8,121.29 L648.2,120.51 L648.6,119.75 L649,119.05 L649.4,118.41 L649.8,117.86 L650.2,117.43 L650.6,117.14 L651,117.01 L651.4,117.11 L651.8,117.57 L652.2,118.33 L652.6,119.34 L653,120.54 L653.4,121.87 L653.8,123.28 L654.2,124.81 L654.6,126.91 L655,129.54 L655.4,132.53 L655.8,135.73 L656.2,138.98 L656.6,142.12 L657,145 L657.4,147.83 L657.8,150.79 L658.2,153.63 L658.6,156.12 L659,158 L659.4,159.47 L659.8,160.85 L660.2,162.11 L660.6,163.23 L661,164.17 L661.4,164.92 L661.8,165.43 L662.2,165.73 L662.6,165.98 L663,166.2 L663.4,166.41 L663.8,166.6 L664.2,166.77 L664.6,166.92 L665,167.04 L665.4,167.14 L665.8,167.22 L666.2,167.27 L666.6,167.3 L667,167.3 L667.4,167.3 L667.8,167.3 L668.2,167.3 L668.6,167.3 L669,167.3 L669.4,167.3 L669.8,167.3 L670.2,167.3 L670.6,167.3 L671,167.3 L671.4,167.3 L671.8,167.3 L672.2,167.3 L672.6,167.3 L673,167.3 L673.4,167.3 L673.8,167.3 L674.2,167.3 L674.6,167.3 L675,167.3 L675.4,167.3 L675.8,167.3 L676.2,167.3 L676.6,167.3 L677,167.3 L677.4,167.3 L677.8,167.3 L678.2,167.3 L678.6,167.3 L679,167.3 L679.4,167.3 L679.8,167.3 L680.2,167.3 L680.6,167.3 L681,167.3 L681.4,167.3 L681.8,167.3" fill="none" stroke="#000" stroke-width="1.9" stroke-linejoin="round"/>
<rect x="559.4" y="58.4" width="122.6" height="110.2" fill="none" stroke="#303030" stroke-width="0.8"/>
<line x1="559.4" y1="168.6" x2="559.4" y2="167" stroke="#303030" stroke-width="0.8" />
<line x1="559.4" y1="58.4" x2="559.4" y2="60" stroke="#303030" stroke-width="0.8" />
<line x1="594.43" y1="168.6" x2="594.43" y2="167" stroke="#303030" stroke-width="0.8" />
<line x1="594.43" y1="58.4" x2="594.43" y2="60" stroke="#303030" stroke-width="0.8" />
<line x1="629.46" y1="168.6" x2="629.46" y2="167" stroke="#303030" stroke-width="0.8" />
<line x1="629.46" y1="58.4" x2="629.46" y2="60" stroke="#303030" stroke-width="0.8" />
<line x1="664.48" y1="168.6" x2="664.48" y2="167" stroke="#303030" stroke-width="0.8" />
<line x1="664.48" y1="58.4" x2="664.48" y2="60" stroke="#303030" stroke-width="0.8" />
<line x1="559.4" y1="167.2" x2="561" y2="167.2" stroke="#303030" stroke-width="0.8" />
<line x1="682" y1="167.2" x2="680.4" y2="167.2" stroke="#303030" stroke-width="0.8" />
<text x="555.9" y="170.65" font-family='"Liberation Sans", sans-serif' font-size="10.2" text-anchor="end" fill="#111" >0</text>
<text x="559.4" y="181.5" font-family='"Liberation Sans", sans-serif' font-size="10.2" text-anchor="middle" fill="#111" >0</text>
<text x="594.43" y="181.5" font-family='"Liberation Sans", sans-serif' font-size="10.2" text-anchor="middle" fill="#111" >0.4</text>
<text x="629.46" y="181.5" font-family='"Liberation Sans", sans-serif' font-size="10.2" text-anchor="middle" fill="#111" >0.8</text>
<text x="664.48" y="181.5" font-family='"Liberation Sans", sans-serif' font-size="10.2" text-anchor="middle" fill="#111" >1.2</text>
<text x="620.5" y="192.2" font-family='"Liberation Sans", sans-serif' font-size="11.8" text-anchor="middle" fill="#111" >Shift (MHz)</text>
<text transform="translate(546.0,113.6) rotate(-90)" font-family='"Liberation Sans", sans-serif' font-size="11.65" text-anchor="middle" fill="#111">Intensity (arb. units)</text>
<text x="528.7" y="53.2" font-family='"Liberation Serif", serif' font-size="16.5" text-anchor="start" fill="#000" textLength="16" lengthAdjust="spacingAndGlyphs" stroke="#fff" stroke-width="0.3">(c)</text>
<line x1="565.4" y1="69.8" x2="584.7" y2="69.8" stroke="#d95319" stroke-width="1.9" />
<line x1="565.4" y1="79.9" x2="584.7" y2="79.9" stroke="#000" stroke-width="1.9" />
<text x="587" y="72.7" font-family='"Liberation Sans", sans-serif' font-size="9" text-anchor="start" fill="#111" textLength="18.6" lengthAdjust="spacingAndGlyphs">Data</text>
<text x="587" y="82.1" font-family='"Liberation Sans", sans-serif' font-size="9" text-anchor="start" fill="#111" textLength="9" lengthAdjust="spacingAndGlyphs">Fit</text>
<rect x="644" y="62.3" width="35.3" height="45.2" fill="#fff" stroke="#303030" stroke-width="0.7"/>
<path d="M644.4,105.4 L644.7,105.4 L645,105.4 L645.3,105.4 L645.6,105.4 L645.9,105.4 L646.2,105.4 L646.5,105.4 L646.8,105.4 L647.1,105.4 L647.4,105.4 L647.7,105.4 L648,105.4 L648.3,105.4 L648.6,105.4 L648.9,105.4 L649.2,105.4 L649.5,105.4 L649.8,105.38 L650.1,105.22 L650.4,104.34 L650.7,101.04 L651,92.63 L651.3,78.83 L651.6,66.81 L651.9,66.36 L652.2,73.75 L652.5,79.7 L652.8,83.18 L653.1,85.43 L653.4,87.04 L653.7,88.27 L654,89.23 L654.3,90.02 L654.6,90.68 L654.9,91.23 L655.2,91.71 L655.5,92.12 L655.8,92.47 L656.1,92.78 L656.4,93.06 L656.7,93.3 L657,93.52 L657.3,93.71 L657.6,93.88 L657.9,94.02 L658.2,94.16 L658.5,94.27 L658.8,94.37 L659.1,94.46 L659.4,94.53 L659.7,94.6 L660,94.65 L660.3,94.69 L660.6,94.72 L660.9,94.73 L661.2,94.74 L661.5,94.74 L661.8,94.73 L662.1,94.71 L662.4,94.67 L662.7,94.63 L663,94.58 L663.3,94.51 L663.6,94.43 L663.9,94.34 L664.2,94.23 L664.5,94.11 L664.8,93.98 L665.1,93.82 L665.4,93.65 L665.7,93.45 L666,93.22 L666.3,92.97 L666.6,92.69 L666.9,92.36 L667.2,91.99 L667.5,91.56 L667.8,91.06 L668.1,90.47 L668.4,89.78 L668.7,88.93 L669,87.89 L669.3,86.55 L669.6,84.77 L669.9,82.2 L670.2,78.06 L670.5,71.15 L670.8,65.1 L671.1,69.88 L671.4,83.77 L671.7,96.13 L672,102.58 L672.3,104.79 L672.6,105.31 L672.9,105.39 L673.2,105.4 L673.5,105.4 L673.8,105.4 L674.1,105.4 L674.4,105.4 L674.7,105.4 L675,105.4 L675.3,105.4 L675.6,105.4 L675.9,105.4 L676.2,105.4 L676.5,105.4 L676.8,105.4 L677.1,105.4 L677.4,105.4 L677.7,105.4 L678,105.4 L678.3,105.4 L678.6,105.4 L678.9,105.4" fill="none" stroke="#0a7bc3" stroke-width="1.5" stroke-linejoin="round"/>
<line x1="649.04" y1="107.5" x2="649.04" y2="106.5" stroke="#303030" stroke-width="0.5" />
<line x1="649.04" y1="62.3" x2="649.04" y2="63.3" stroke="#303030" stroke-width="0.5" />
<line x1="654.09" y1="107.5" x2="654.09" y2="106.5" stroke="#303030" stroke-width="0.5" />
<line x1="654.09" y1="62.3" x2="654.09" y2="63.3" stroke="#303030" stroke-width="0.5" />
<line x1="659.13" y1="107.5" x2="659.13" y2="106.5" stroke="#303030" stroke-width="0.5" />
<line x1="659.13" y1="62.3" x2="659.13" y2="63.3" stroke="#303030" stroke-width="0.5" />
<line x1="664.17" y1="107.5" x2="664.17" y2="106.5" stroke="#303030" stroke-width="0.5" />
<line x1="664.17" y1="62.3" x2="664.17" y2="63.3" stroke="#303030" stroke-width="0.5" />
<line x1="669.21" y1="107.5" x2="669.21" y2="106.5" stroke="#303030" stroke-width="0.5" />
<line x1="669.21" y1="62.3" x2="669.21" y2="63.3" stroke="#303030" stroke-width="0.5" />
<line x1="674.26" y1="107.5" x2="674.26" y2="106.5" stroke="#303030" stroke-width="0.5" />
<line x1="674.26" y1="62.3" x2="674.26" y2="63.3" stroke="#303030" stroke-width="0.5" />
<line x1="644" y1="67.32" x2="645" y2="67.32" stroke="#303030" stroke-width="0.5" />
<line x1="679.3" y1="67.32" x2="678.3" y2="67.32" stroke="#303030" stroke-width="0.5" />
<line x1="644" y1="72.34" x2="645" y2="72.34" stroke="#303030" stroke-width="0.5" />
<line x1="679.3" y1="72.34" x2="678.3" y2="72.34" stroke="#303030" stroke-width="0.5" />
<line x1="644" y1="77.37" x2="645" y2="77.37" stroke="#303030" stroke-width="0.5" />
<line x1="679.3" y1="77.37" x2="678.3" y2="77.37" stroke="#303030" stroke-width="0.5" />
<line x1="644" y1="82.39" x2="645" y2="82.39" stroke="#303030" stroke-width="0.5" />
<line x1="679.3" y1="82.39" x2="678.3" y2="82.39" stroke="#303030" stroke-width="0.5" />
<line x1="644" y1="87.41" x2="645" y2="87.41" stroke="#303030" stroke-width="0.5" />
<line x1="679.3" y1="87.41" x2="678.3" y2="87.41" stroke="#303030" stroke-width="0.5" />
<line x1="644" y1="92.43" x2="645" y2="92.43" stroke="#303030" stroke-width="0.5" />
<line x1="679.3" y1="92.43" x2="678.3" y2="92.43" stroke="#303030" stroke-width="0.5" />
<line x1="644" y1="97.46" x2="645" y2="97.46" stroke="#303030" stroke-width="0.5" />
<line x1="679.3" y1="97.46" x2="678.3" y2="97.46" stroke="#303030" stroke-width="0.5" />
<line x1="644" y1="102.48" x2="645" y2="102.48" stroke="#303030" stroke-width="0.5" />
<line x1="679.3" y1="102.48" x2="678.3" y2="102.48" stroke="#303030" stroke-width="0.5" />
</svg></body></html>
